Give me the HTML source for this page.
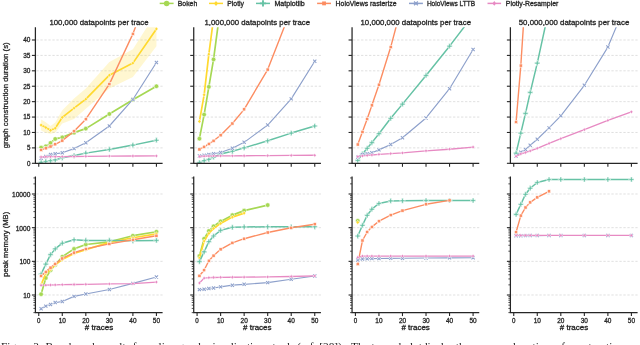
<!DOCTYPE html>
<html><head><meta charset="utf-8"><style>
html,body{margin:0;padding:0;background:#fff;width:640px;height:345px;overflow:hidden}
svg{will-change:transform}
svg text{font-family:"Liberation Sans", sans-serif;stroke:#262626;stroke-width:0.3px}
</style></head><body>
<svg width="640" height="345" viewBox="0 0 640 345" style="display:block">
<rect width="640" height="345" fill="#fff"/>
<clipPath id="ct0"><rect x="35.40" y="27.20" width="127.20" height="136.10"/></clipPath>
<clipPath id="cb0"><rect x="35.40" y="176.50" width="127.20" height="136.10"/></clipPath>
<clipPath id="ct1"><rect x="193.73" y="27.20" width="127.20" height="136.10"/></clipPath>
<clipPath id="cb1"><rect x="193.73" y="176.50" width="127.20" height="136.10"/></clipPath>
<clipPath id="ct2"><rect x="352.06" y="27.20" width="127.20" height="136.10"/></clipPath>
<clipPath id="cb2"><rect x="352.06" y="176.50" width="127.20" height="136.10"/></clipPath>
<clipPath id="ct3"><rect x="510.39" y="27.20" width="127.20" height="136.10"/></clipPath>
<clipPath id="cb3"><rect x="510.39" y="176.50" width="127.20" height="136.10"/></clipPath>
<line x1="36.40" y1="147.89" x2="162.60" y2="147.89" stroke="#d2d2d2" stroke-width="0.7" stroke-dasharray="2.3 1.7"/>
<line x1="36.40" y1="132.47" x2="162.60" y2="132.47" stroke="#d2d2d2" stroke-width="0.7" stroke-dasharray="2.3 1.7"/>
<line x1="36.40" y1="117.06" x2="162.60" y2="117.06" stroke="#d2d2d2" stroke-width="0.7" stroke-dasharray="2.3 1.7"/>
<line x1="36.40" y1="101.65" x2="162.60" y2="101.65" stroke="#d2d2d2" stroke-width="0.7" stroke-dasharray="2.3 1.7"/>
<line x1="36.40" y1="86.23" x2="162.60" y2="86.23" stroke="#d2d2d2" stroke-width="0.7" stroke-dasharray="2.3 1.7"/>
<line x1="36.40" y1="70.82" x2="162.60" y2="70.82" stroke="#d2d2d2" stroke-width="0.7" stroke-dasharray="2.3 1.7"/>
<line x1="36.40" y1="55.41" x2="162.60" y2="55.41" stroke="#d2d2d2" stroke-width="0.7" stroke-dasharray="2.3 1.7"/>
<line x1="36.40" y1="39.99" x2="162.60" y2="39.99" stroke="#d2d2d2" stroke-width="0.7" stroke-dasharray="2.3 1.7"/>
<line x1="36.40" y1="295.01" x2="162.60" y2="295.01" stroke="#d2d2d2" stroke-width="0.7" stroke-dasharray="2.3 1.7"/>
<line x1="36.40" y1="261.34" x2="162.60" y2="261.34" stroke="#d2d2d2" stroke-width="0.7" stroke-dasharray="2.3 1.7"/>
<line x1="36.40" y1="227.67" x2="162.60" y2="227.67" stroke="#d2d2d2" stroke-width="0.7" stroke-dasharray="2.3 1.7"/>
<line x1="36.40" y1="194.00" x2="162.60" y2="194.00" stroke="#d2d2d2" stroke-width="0.7" stroke-dasharray="2.3 1.7"/>
<g clip-path="url(#ct0)">
<polygon points="41.10,119.53 45.81,122.30 50.52,126.00 55.22,122.61 62.28,110.28 74.05,98.56 85.82,88.39 109.36,61.88 132.89,49.24 156.43,12.25 156.43,46.16 132.89,76.99 109.36,88.39 85.82,108.74 74.05,118.91 62.28,123.53 55.22,132.78 50.52,133.71 45.81,132.78 41.10,130.62" fill="#ffd92f" fill-opacity="0.22"/>
<polyline points="41.10,147.58 45.81,146.35 50.52,142.95 55.22,138.95 62.28,137.41 74.05,132.63 85.82,128.62 109.36,113.98 132.89,99.80 156.43,86.23" fill="none" stroke="#a6d854" stroke-width="1.7" stroke-linejoin="round"/>
<circle cx="41.10" cy="147.58" r="2.30" fill="#a6d854" stroke="#fff" stroke-width="0.55"/>
<circle cx="45.81" cy="146.35" r="2.30" fill="#a6d854" stroke="#fff" stroke-width="0.55"/>
<circle cx="50.52" cy="142.95" r="2.30" fill="#a6d854" stroke="#fff" stroke-width="0.55"/>
<circle cx="55.22" cy="138.95" r="2.30" fill="#a6d854" stroke="#fff" stroke-width="0.55"/>
<circle cx="62.28" cy="137.41" r="2.30" fill="#a6d854" stroke="#fff" stroke-width="0.55"/>
<circle cx="74.05" cy="132.63" r="2.30" fill="#a6d854" stroke="#fff" stroke-width="0.55"/>
<circle cx="85.82" cy="128.62" r="2.30" fill="#a6d854" stroke="#fff" stroke-width="0.55"/>
<circle cx="109.36" cy="113.98" r="2.30" fill="#a6d854" stroke="#fff" stroke-width="0.55"/>
<circle cx="132.89" cy="99.80" r="2.30" fill="#a6d854" stroke="#fff" stroke-width="0.55"/>
<circle cx="156.43" cy="86.23" r="2.30" fill="#a6d854" stroke="#fff" stroke-width="0.55"/>
<polyline points="41.10,125.07 45.81,127.54 50.52,130.32 55.22,128.16 62.28,117.37 74.05,108.12 85.82,99.18 109.36,75.14 132.89,63.11 156.43,28.90" fill="none" stroke="#ffd92f" stroke-width="1.7" stroke-linejoin="round"/>
<path d="M41.10 122.97L42.78 125.07L41.10 127.17L39.42 125.07Z" fill="#ffd92f" stroke="#fff" stroke-width="0.55"/>
<path d="M45.81 125.44L47.49 127.54L45.81 129.64L44.13 127.54Z" fill="#ffd92f" stroke="#fff" stroke-width="0.55"/>
<path d="M50.52 128.22L52.20 130.32L50.52 132.42L48.84 130.32Z" fill="#ffd92f" stroke="#fff" stroke-width="0.55"/>
<path d="M55.22 126.06L56.90 128.16L55.22 130.26L53.54 128.16Z" fill="#ffd92f" stroke="#fff" stroke-width="0.55"/>
<path d="M62.28 115.27L63.96 117.37L62.28 119.47L60.60 117.37Z" fill="#ffd92f" stroke="#fff" stroke-width="0.55"/>
<path d="M74.05 106.02L75.73 108.12L74.05 110.22L72.37 108.12Z" fill="#ffd92f" stroke="#fff" stroke-width="0.55"/>
<path d="M85.82 97.08L87.50 99.18L85.82 101.28L84.14 99.18Z" fill="#ffd92f" stroke="#fff" stroke-width="0.55"/>
<path d="M109.36 73.04L111.04 75.14L109.36 77.24L107.67 75.14Z" fill="#ffd92f" stroke="#fff" stroke-width="0.55"/>
<path d="M132.89 61.01L134.57 63.11L132.89 65.21L131.21 63.11Z" fill="#ffd92f" stroke="#fff" stroke-width="0.55"/>
<path d="M156.43 26.80L158.11 28.90L156.43 31.00L154.75 28.90Z" fill="#ffd92f" stroke="#fff" stroke-width="0.55"/>
<polyline points="41.10,162.28 45.81,161.45 50.52,160.68 55.22,159.91 62.28,157.81 74.05,155.59 85.82,153.13 109.36,149.43 132.89,145.11 156.43,140.18" fill="none" stroke="#66c2a5" stroke-width="1.5" stroke-linejoin="round"/>
<path d="M40.30 159.68H41.90V161.48H43.70V163.08H41.90V164.88H40.30V163.08H38.50V161.48H40.30Z" fill="#66c2a5" stroke="#fff" stroke-width="0.55"/>
<path d="M45.01 158.85H46.61V160.65H48.41V162.25H46.61V164.05H45.01V162.25H43.21V160.65H45.01Z" fill="#66c2a5" stroke="#fff" stroke-width="0.55"/>
<path d="M49.72 158.08H51.32V159.88H53.12V161.48H51.32V163.28H49.72V161.48H47.92V159.88H49.72Z" fill="#66c2a5" stroke="#fff" stroke-width="0.55"/>
<path d="M54.42 157.31H56.02V159.11H57.82V160.71H56.02V162.51H54.42V160.71H52.62V159.11H54.42Z" fill="#66c2a5" stroke="#fff" stroke-width="0.55"/>
<path d="M61.48 155.21H63.08V157.01H64.88V158.61H63.08V160.41H61.48V158.61H59.68V157.01H61.48Z" fill="#66c2a5" stroke="#fff" stroke-width="0.55"/>
<path d="M73.25 152.99H74.85V154.79H76.65V156.39H74.85V158.19H73.25V156.39H71.45V154.79H73.25Z" fill="#66c2a5" stroke="#fff" stroke-width="0.55"/>
<path d="M85.02 150.53H86.62V152.33H88.42V153.93H86.62V155.73H85.02V153.93H83.22V152.33H85.02Z" fill="#66c2a5" stroke="#fff" stroke-width="0.55"/>
<path d="M108.56 146.83H110.16V148.63H111.95V150.23H110.16V152.03H108.56V150.23H106.76V148.63H108.56Z" fill="#66c2a5" stroke="#fff" stroke-width="0.55"/>
<path d="M132.09 142.51H133.69V144.31H135.49V145.91H133.69V147.71H132.09V145.91H130.29V144.31H132.09Z" fill="#66c2a5" stroke="#fff" stroke-width="0.55"/>
<path d="M155.62 137.58H157.23V139.38H159.03V140.98H157.23V142.78H155.62V140.98H153.83V139.38H155.62Z" fill="#66c2a5" stroke="#fff" stroke-width="0.55"/>
<polyline points="41.10,149.89 45.81,148.29 50.52,146.50 55.22,144.28 62.28,140.61 74.05,131.24 85.82,119.22 109.36,84.08 132.89,33.83 156.43,-27.83" fill="none" stroke="#fc8d62" stroke-width="1.4" stroke-linejoin="round"/>
<rect x="39.50" y="148.29" width="3.20" height="3.20" fill="#fc8d62" stroke="#fff" stroke-width="0.55"/>
<rect x="44.21" y="146.69" width="3.20" height="3.20" fill="#fc8d62" stroke="#fff" stroke-width="0.55"/>
<rect x="48.92" y="144.90" width="3.20" height="3.20" fill="#fc8d62" stroke="#fff" stroke-width="0.55"/>
<rect x="53.62" y="142.68" width="3.20" height="3.20" fill="#fc8d62" stroke="#fff" stroke-width="0.55"/>
<rect x="60.68" y="139.01" width="3.20" height="3.20" fill="#fc8d62" stroke="#fff" stroke-width="0.55"/>
<rect x="72.45" y="129.64" width="3.20" height="3.20" fill="#fc8d62" stroke="#fff" stroke-width="0.55"/>
<rect x="84.22" y="117.62" width="3.20" height="3.20" fill="#fc8d62" stroke="#fff" stroke-width="0.55"/>
<rect x="107.76" y="82.48" width="3.20" height="3.20" fill="#fc8d62" stroke="#fff" stroke-width="0.55"/>
<rect x="131.29" y="32.23" width="3.20" height="3.20" fill="#fc8d62" stroke="#fff" stroke-width="0.55"/>
<rect x="154.83" y="-29.43" width="3.20" height="3.20" fill="#fc8d62" stroke="#fff" stroke-width="0.55"/>
<polyline points="41.10,158.21 45.81,156.52 50.52,154.51 55.22,153.74 62.28,152.82 74.05,148.60 85.82,142.71 109.36,126.00 132.89,99.49 156.43,62.50" fill="none" stroke="#8da0cb" stroke-width="1.15" stroke-linejoin="round"/>
<path d="M39.50 156.61L42.70 159.81M42.70 156.61L39.50 159.81" stroke="#fff" stroke-width="2.00" fill="none"/><path d="M39.50 156.61L42.70 159.81M42.70 156.61L39.50 159.81" stroke="#8da0cb" stroke-width="1.05" fill="none"/>
<path d="M44.21 154.92L47.41 158.12M47.41 154.92L44.21 158.12" stroke="#fff" stroke-width="2.00" fill="none"/><path d="M44.21 154.92L47.41 158.12M47.41 154.92L44.21 158.12" stroke="#8da0cb" stroke-width="1.05" fill="none"/>
<path d="M48.92 152.91L52.12 156.11M52.12 152.91L48.92 156.11" stroke="#fff" stroke-width="2.00" fill="none"/><path d="M48.92 152.91L52.12 156.11M52.12 152.91L48.92 156.11" stroke="#8da0cb" stroke-width="1.05" fill="none"/>
<path d="M53.62 152.14L56.82 155.34M56.82 152.14L53.62 155.34" stroke="#fff" stroke-width="2.00" fill="none"/><path d="M53.62 152.14L56.82 155.34M56.82 152.14L53.62 155.34" stroke="#8da0cb" stroke-width="1.05" fill="none"/>
<path d="M60.68 151.22L63.88 154.42M63.88 151.22L60.68 154.42" stroke="#fff" stroke-width="2.00" fill="none"/><path d="M60.68 151.22L63.88 154.42M63.88 151.22L60.68 154.42" stroke="#8da0cb" stroke-width="1.05" fill="none"/>
<path d="M72.45 147.00L75.65 150.20M75.65 147.00L72.45 150.20" stroke="#fff" stroke-width="2.00" fill="none"/><path d="M72.45 147.00L75.65 150.20M75.65 147.00L72.45 150.20" stroke="#8da0cb" stroke-width="1.05" fill="none"/>
<path d="M84.22 141.11L87.42 144.31M87.42 141.11L84.22 144.31" stroke="#fff" stroke-width="2.00" fill="none"/><path d="M84.22 141.11L87.42 144.31M87.42 141.11L84.22 144.31" stroke="#8da0cb" stroke-width="1.05" fill="none"/>
<path d="M107.76 124.40L110.95 127.60M110.95 124.40L107.76 127.60" stroke="#fff" stroke-width="2.00" fill="none"/><path d="M107.76 124.40L110.95 127.60M110.95 124.40L107.76 127.60" stroke="#8da0cb" stroke-width="1.05" fill="none"/>
<path d="M131.29 97.89L134.49 101.09M134.49 97.89L131.29 101.09" stroke="#fff" stroke-width="2.00" fill="none"/><path d="M131.29 97.89L134.49 101.09M134.49 97.89L131.29 101.09" stroke="#8da0cb" stroke-width="1.05" fill="none"/>
<path d="M154.83 60.90L158.03 64.10M158.03 60.90L154.83 64.10" stroke="#fff" stroke-width="2.00" fill="none"/><path d="M154.83 60.90L158.03 64.10M158.03 60.90L154.83 64.10" stroke="#8da0cb" stroke-width="1.05" fill="none"/>
<polyline points="41.10,157.01 45.81,156.76 50.52,156.70 55.22,156.67 62.28,156.64 74.05,156.52 85.82,156.36 109.36,156.06 132.89,155.99 156.43,155.90" fill="none" stroke="#e78ac3" stroke-width="1.35" stroke-linejoin="round"/>
<path d="M41.10 155.11L42.62 157.01L41.10 158.91L39.58 157.01Z" fill="#e78ac3" stroke="#fff" stroke-width="0.55"/>
<path d="M45.81 154.86L47.33 156.76L45.81 158.66L44.29 156.76Z" fill="#e78ac3" stroke="#fff" stroke-width="0.55"/>
<path d="M50.52 154.80L52.04 156.70L50.52 158.60L49.00 156.70Z" fill="#e78ac3" stroke="#fff" stroke-width="0.55"/>
<path d="M55.22 154.77L56.74 156.67L55.22 158.57L53.70 156.67Z" fill="#e78ac3" stroke="#fff" stroke-width="0.55"/>
<path d="M62.28 154.74L63.80 156.64L62.28 158.54L60.76 156.64Z" fill="#e78ac3" stroke="#fff" stroke-width="0.55"/>
<path d="M74.05 154.62L75.57 156.52L74.05 158.42L72.53 156.52Z" fill="#e78ac3" stroke="#fff" stroke-width="0.55"/>
<path d="M85.82 154.46L87.34 156.36L85.82 158.26L84.30 156.36Z" fill="#e78ac3" stroke="#fff" stroke-width="0.55"/>
<path d="M109.36 154.16L110.88 156.06L109.36 157.96L107.84 156.06Z" fill="#e78ac3" stroke="#fff" stroke-width="0.55"/>
<path d="M132.89 154.09L134.41 155.99L132.89 157.89L131.37 155.99Z" fill="#e78ac3" stroke="#fff" stroke-width="0.55"/>
<path d="M156.43 154.00L157.95 155.90L156.43 157.80L154.91 155.90Z" fill="#e78ac3" stroke="#fff" stroke-width="0.55"/>
</g>
<g clip-path="url(#cb0)">
<polyline points="41.10,294.20 45.81,278.00 50.52,270.19 55.22,264.93 62.28,256.68 74.05,248.91 85.82,244.48 109.36,241.79 132.89,235.71 156.43,231.72" fill="none" stroke="#a6d854" stroke-width="1.7" stroke-linejoin="round"/>
<circle cx="41.10" cy="294.20" r="2.30" fill="#a6d854" stroke="#fff" stroke-width="0.55"/>
<circle cx="45.81" cy="278.00" r="2.30" fill="#a6d854" stroke="#fff" stroke-width="0.55"/>
<circle cx="50.52" cy="270.19" r="2.30" fill="#a6d854" stroke="#fff" stroke-width="0.55"/>
<circle cx="55.22" cy="264.93" r="2.30" fill="#a6d854" stroke="#fff" stroke-width="0.55"/>
<circle cx="62.28" cy="256.68" r="2.30" fill="#a6d854" stroke="#fff" stroke-width="0.55"/>
<circle cx="74.05" cy="248.91" r="2.30" fill="#a6d854" stroke="#fff" stroke-width="0.55"/>
<circle cx="85.82" cy="244.48" r="2.30" fill="#a6d854" stroke="#fff" stroke-width="0.55"/>
<circle cx="109.36" cy="241.79" r="2.30" fill="#a6d854" stroke="#fff" stroke-width="0.55"/>
<circle cx="132.89" cy="235.71" r="2.30" fill="#a6d854" stroke="#fff" stroke-width="0.55"/>
<circle cx="156.43" cy="231.72" r="2.30" fill="#a6d854" stroke="#fff" stroke-width="0.55"/>
<polyline points="41.10,284.66 45.81,273.59 50.52,269.42 55.22,264.75 62.28,259.58 74.05,253.38 85.82,249.68 109.36,242.34 132.89,237.75 156.43,233.80" fill="none" stroke="#ffd92f" stroke-width="1.7" stroke-linejoin="round"/>
<path d="M41.10 282.56L42.78 284.66L41.10 286.76L39.42 284.66Z" fill="#ffd92f" stroke="#fff" stroke-width="0.55"/>
<path d="M45.81 271.49L47.49 273.59L45.81 275.69L44.13 273.59Z" fill="#ffd92f" stroke="#fff" stroke-width="0.55"/>
<path d="M50.52 267.32L52.20 269.42L50.52 271.52L48.84 269.42Z" fill="#ffd92f" stroke="#fff" stroke-width="0.55"/>
<path d="M55.22 262.65L56.90 264.75L55.22 266.85L53.54 264.75Z" fill="#ffd92f" stroke="#fff" stroke-width="0.55"/>
<path d="M62.28 257.48L63.96 259.58L62.28 261.68L60.60 259.58Z" fill="#ffd92f" stroke="#fff" stroke-width="0.55"/>
<path d="M74.05 251.28L75.73 253.38L74.05 255.48L72.37 253.38Z" fill="#ffd92f" stroke="#fff" stroke-width="0.55"/>
<path d="M85.82 247.58L87.50 249.68L85.82 251.78L84.14 249.68Z" fill="#ffd92f" stroke="#fff" stroke-width="0.55"/>
<path d="M109.36 240.24L111.04 242.34L109.36 244.44L107.67 242.34Z" fill="#ffd92f" stroke="#fff" stroke-width="0.55"/>
<path d="M132.89 235.65L134.57 237.75L132.89 239.85L131.21 237.75Z" fill="#ffd92f" stroke="#fff" stroke-width="0.55"/>
<path d="M156.43 231.70L158.11 233.80L156.43 235.90L154.75 233.80Z" fill="#ffd92f" stroke="#fff" stroke-width="0.55"/>
<polyline points="41.10,274.13 45.81,264.09 50.52,254.61 55.22,248.91 62.28,243.20 74.05,239.78 85.82,240.40 109.36,240.40 132.89,240.82 156.43,240.40" fill="none" stroke="#66c2a5" stroke-width="1.5" stroke-linejoin="round"/>
<path d="M40.30 271.53H41.90V273.33H43.70V274.93H41.90V276.73H40.30V274.93H38.50V273.33H40.30Z" fill="#66c2a5" stroke="#fff" stroke-width="0.55"/>
<path d="M45.01 261.49H46.61V263.29H48.41V264.89H46.61V266.69H45.01V264.89H43.21V263.29H45.01Z" fill="#66c2a5" stroke="#fff" stroke-width="0.55"/>
<path d="M49.72 252.01H51.32V253.81H53.12V255.41H51.32V257.21H49.72V255.41H47.92V253.81H49.72Z" fill="#66c2a5" stroke="#fff" stroke-width="0.55"/>
<path d="M54.42 246.31H56.02V248.11H57.82V249.71H56.02V251.51H54.42V249.71H52.62V248.11H54.42Z" fill="#66c2a5" stroke="#fff" stroke-width="0.55"/>
<path d="M61.48 240.60H63.08V242.40H64.88V244.00H63.08V245.80H61.48V244.00H59.68V242.40H61.48Z" fill="#66c2a5" stroke="#fff" stroke-width="0.55"/>
<path d="M73.25 237.18H74.85V238.98H76.65V240.58H74.85V242.38H73.25V240.58H71.45V238.98H73.25Z" fill="#66c2a5" stroke="#fff" stroke-width="0.55"/>
<path d="M85.02 237.80H86.62V239.60H88.42V241.20H86.62V243.00H85.02V241.20H83.22V239.60H85.02Z" fill="#66c2a5" stroke="#fff" stroke-width="0.55"/>
<path d="M108.56 237.80H110.16V239.60H111.95V241.20H110.16V243.00H108.56V241.20H106.76V239.60H108.56Z" fill="#66c2a5" stroke="#fff" stroke-width="0.55"/>
<path d="M132.09 238.22H133.69V240.02H135.49V241.62H133.69V243.42H132.09V241.62H130.29V240.02H132.09Z" fill="#66c2a5" stroke="#fff" stroke-width="0.55"/>
<path d="M155.62 237.80H157.23V239.60H159.03V241.20H157.23V243.00H155.62V241.20H153.83V239.60H155.62Z" fill="#66c2a5" stroke="#fff" stroke-width="0.55"/>
<polyline points="41.10,275.91 45.81,271.87 50.52,267.64 55.22,263.87 62.28,258.47 74.05,252.64 85.82,248.91 109.36,243.89 132.89,239.78 156.43,235.71" fill="none" stroke="#fc8d62" stroke-width="1.4" stroke-linejoin="round"/>
<rect x="39.50" y="274.31" width="3.20" height="3.20" fill="#fc8d62" stroke="#fff" stroke-width="0.55"/>
<rect x="44.21" y="270.27" width="3.20" height="3.20" fill="#fc8d62" stroke="#fff" stroke-width="0.55"/>
<rect x="48.92" y="266.04" width="3.20" height="3.20" fill="#fc8d62" stroke="#fff" stroke-width="0.55"/>
<rect x="53.62" y="262.27" width="3.20" height="3.20" fill="#fc8d62" stroke="#fff" stroke-width="0.55"/>
<rect x="60.68" y="256.87" width="3.20" height="3.20" fill="#fc8d62" stroke="#fff" stroke-width="0.55"/>
<rect x="72.45" y="251.04" width="3.20" height="3.20" fill="#fc8d62" stroke="#fff" stroke-width="0.55"/>
<rect x="84.22" y="247.31" width="3.20" height="3.20" fill="#fc8d62" stroke="#fff" stroke-width="0.55"/>
<rect x="107.76" y="242.29" width="3.20" height="3.20" fill="#fc8d62" stroke="#fff" stroke-width="0.55"/>
<rect x="131.29" y="238.18" width="3.20" height="3.20" fill="#fc8d62" stroke="#fff" stroke-width="0.55"/>
<rect x="154.83" y="234.11" width="3.20" height="3.20" fill="#fc8d62" stroke="#fff" stroke-width="0.55"/>
<polyline points="41.10,308.69 45.81,306.13 50.52,304.56 55.22,302.59 62.28,301.52 74.05,296.37 85.82,293.94 109.36,289.53 132.89,283.39 156.43,277.00" fill="none" stroke="#8da0cb" stroke-width="1.15" stroke-linejoin="round"/>
<path d="M39.50 307.09L42.70 310.29M42.70 307.09L39.50 310.29" stroke="#fff" stroke-width="2.00" fill="none"/><path d="M39.50 307.09L42.70 310.29M42.70 307.09L39.50 310.29" stroke="#8da0cb" stroke-width="1.05" fill="none"/>
<path d="M44.21 304.53L47.41 307.73M47.41 304.53L44.21 307.73" stroke="#fff" stroke-width="2.00" fill="none"/><path d="M44.21 304.53L47.41 307.73M47.41 304.53L44.21 307.73" stroke="#8da0cb" stroke-width="1.05" fill="none"/>
<path d="M48.92 302.96L52.12 306.16M52.12 302.96L48.92 306.16" stroke="#fff" stroke-width="2.00" fill="none"/><path d="M48.92 302.96L52.12 306.16M52.12 302.96L48.92 306.16" stroke="#8da0cb" stroke-width="1.05" fill="none"/>
<path d="M53.62 300.99L56.82 304.19M56.82 300.99L53.62 304.19" stroke="#fff" stroke-width="2.00" fill="none"/><path d="M53.62 300.99L56.82 304.19M56.82 300.99L53.62 304.19" stroke="#8da0cb" stroke-width="1.05" fill="none"/>
<path d="M60.68 299.92L63.88 303.12M63.88 299.92L60.68 303.12" stroke="#fff" stroke-width="2.00" fill="none"/><path d="M60.68 299.92L63.88 303.12M63.88 299.92L60.68 303.12" stroke="#8da0cb" stroke-width="1.05" fill="none"/>
<path d="M72.45 294.77L75.65 297.97M75.65 294.77L72.45 297.97" stroke="#fff" stroke-width="2.00" fill="none"/><path d="M72.45 294.77L75.65 297.97M75.65 294.77L72.45 297.97" stroke="#8da0cb" stroke-width="1.05" fill="none"/>
<path d="M84.22 292.34L87.42 295.54M87.42 292.34L84.22 295.54" stroke="#fff" stroke-width="2.00" fill="none"/><path d="M84.22 292.34L87.42 295.54M87.42 292.34L84.22 295.54" stroke="#8da0cb" stroke-width="1.05" fill="none"/>
<path d="M107.76 287.93L110.95 291.13M110.95 287.93L107.76 291.13" stroke="#fff" stroke-width="2.00" fill="none"/><path d="M107.76 287.93L110.95 291.13M110.95 287.93L107.76 291.13" stroke="#8da0cb" stroke-width="1.05" fill="none"/>
<path d="M131.29 281.79L134.49 284.99M134.49 281.79L131.29 284.99" stroke="#fff" stroke-width="2.00" fill="none"/><path d="M131.29 281.79L134.49 284.99M134.49 281.79L131.29 284.99" stroke="#8da0cb" stroke-width="1.05" fill="none"/>
<path d="M154.83 275.40L158.03 278.60M158.03 275.40L154.83 278.60" stroke="#fff" stroke-width="2.00" fill="none"/><path d="M154.83 275.40L158.03 278.60M158.03 275.40L154.83 278.60" stroke="#8da0cb" stroke-width="1.05" fill="none"/>
<polyline points="41.10,285.31 45.81,285.16 50.52,285.02 55.22,284.88 62.28,284.66 74.05,284.52 85.82,284.32 109.36,283.91 132.89,283.65 156.43,282.09" fill="none" stroke="#e78ac3" stroke-width="1.35" stroke-linejoin="round"/>
<path d="M41.10 283.41L42.62 285.31L41.10 287.21L39.58 285.31Z" fill="#e78ac3" stroke="#fff" stroke-width="0.55"/>
<path d="M45.81 283.26L47.33 285.16L45.81 287.06L44.29 285.16Z" fill="#e78ac3" stroke="#fff" stroke-width="0.55"/>
<path d="M50.52 283.12L52.04 285.02L50.52 286.92L49.00 285.02Z" fill="#e78ac3" stroke="#fff" stroke-width="0.55"/>
<path d="M55.22 282.98L56.74 284.88L55.22 286.78L53.70 284.88Z" fill="#e78ac3" stroke="#fff" stroke-width="0.55"/>
<path d="M62.28 282.76L63.80 284.66L62.28 286.56L60.76 284.66Z" fill="#e78ac3" stroke="#fff" stroke-width="0.55"/>
<path d="M74.05 282.62L75.57 284.52L74.05 286.42L72.53 284.52Z" fill="#e78ac3" stroke="#fff" stroke-width="0.55"/>
<path d="M85.82 282.42L87.34 284.32L85.82 286.22L84.30 284.32Z" fill="#e78ac3" stroke="#fff" stroke-width="0.55"/>
<path d="M109.36 282.01L110.88 283.91L109.36 285.81L107.84 283.91Z" fill="#e78ac3" stroke="#fff" stroke-width="0.55"/>
<path d="M132.89 281.75L134.41 283.65L132.89 285.55L131.37 283.65Z" fill="#e78ac3" stroke="#fff" stroke-width="0.55"/>
<path d="M156.43 280.19L157.95 282.09L156.43 283.99L154.91 282.09Z" fill="#e78ac3" stroke="#fff" stroke-width="0.55"/>
</g>
<path d="M35.40 27.20V163.30H162.60" fill="none" stroke="#262626" stroke-width="1.25" stroke-linecap="butt"/>
<path d="M35.40 176.50V312.60H162.60" fill="none" stroke="#262626" stroke-width="1.25" stroke-linecap="butt"/>
<line x1="38.75" y1="163.30" x2="38.75" y2="166.80" stroke="#262626" stroke-width="1.1"/>
<line x1="38.75" y1="312.60" x2="38.75" y2="316.10" stroke="#262626" stroke-width="1.1"/>
<text x="38.75" y="322.6" font-size="6.8" text-anchor="middle" fill="#262626" textLength="3.45" lengthAdjust="spacingAndGlyphs">0</text>
<line x1="62.28" y1="163.30" x2="62.28" y2="166.80" stroke="#262626" stroke-width="1.1"/>
<line x1="62.28" y1="312.60" x2="62.28" y2="316.10" stroke="#262626" stroke-width="1.1"/>
<text x="62.28" y="322.6" font-size="6.8" text-anchor="middle" fill="#262626" textLength="7.20" lengthAdjust="spacingAndGlyphs">10</text>
<line x1="85.82" y1="163.30" x2="85.82" y2="166.80" stroke="#262626" stroke-width="1.1"/>
<line x1="85.82" y1="312.60" x2="85.82" y2="316.10" stroke="#262626" stroke-width="1.1"/>
<text x="85.82" y="322.6" font-size="6.8" text-anchor="middle" fill="#262626" textLength="7.20" lengthAdjust="spacingAndGlyphs">20</text>
<line x1="109.36" y1="163.30" x2="109.36" y2="166.80" stroke="#262626" stroke-width="1.1"/>
<line x1="109.36" y1="312.60" x2="109.36" y2="316.10" stroke="#262626" stroke-width="1.1"/>
<text x="109.36" y="322.6" font-size="6.8" text-anchor="middle" fill="#262626" textLength="7.20" lengthAdjust="spacingAndGlyphs">30</text>
<line x1="132.89" y1="163.30" x2="132.89" y2="166.80" stroke="#262626" stroke-width="1.1"/>
<line x1="132.89" y1="312.60" x2="132.89" y2="316.10" stroke="#262626" stroke-width="1.1"/>
<text x="132.89" y="322.6" font-size="6.8" text-anchor="middle" fill="#262626" textLength="7.20" lengthAdjust="spacingAndGlyphs">40</text>
<line x1="156.43" y1="163.30" x2="156.43" y2="166.80" stroke="#262626" stroke-width="1.1"/>
<line x1="156.43" y1="312.60" x2="156.43" y2="316.10" stroke="#262626" stroke-width="1.1"/>
<text x="156.43" y="322.6" font-size="6.8" text-anchor="middle" fill="#262626" textLength="7.20" lengthAdjust="spacingAndGlyphs">50</text>
<line x1="31.90" y1="163.30" x2="35.40" y2="163.30" stroke="#262626" stroke-width="1.1"/>
<text x="30.40" y="165.70" font-size="6.8" text-anchor="end" fill="#262626" textLength="3.45" lengthAdjust="spacingAndGlyphs">0</text>
<line x1="31.90" y1="147.89" x2="35.40" y2="147.89" stroke="#262626" stroke-width="1.1"/>
<text x="30.40" y="150.29" font-size="6.8" text-anchor="end" fill="#262626" textLength="3.45" lengthAdjust="spacingAndGlyphs">5</text>
<line x1="31.90" y1="132.47" x2="35.40" y2="132.47" stroke="#262626" stroke-width="1.1"/>
<text x="30.40" y="134.87" font-size="6.8" text-anchor="end" fill="#262626" textLength="7.20" lengthAdjust="spacingAndGlyphs">10</text>
<line x1="31.90" y1="117.06" x2="35.40" y2="117.06" stroke="#262626" stroke-width="1.1"/>
<text x="30.40" y="119.46" font-size="6.8" text-anchor="end" fill="#262626" textLength="7.20" lengthAdjust="spacingAndGlyphs">15</text>
<line x1="31.90" y1="101.65" x2="35.40" y2="101.65" stroke="#262626" stroke-width="1.1"/>
<text x="30.40" y="104.05" font-size="6.8" text-anchor="end" fill="#262626" textLength="7.20" lengthAdjust="spacingAndGlyphs">20</text>
<line x1="31.90" y1="86.23" x2="35.40" y2="86.23" stroke="#262626" stroke-width="1.1"/>
<text x="30.40" y="88.63" font-size="6.8" text-anchor="end" fill="#262626" textLength="7.20" lengthAdjust="spacingAndGlyphs">25</text>
<line x1="31.90" y1="70.82" x2="35.40" y2="70.82" stroke="#262626" stroke-width="1.1"/>
<text x="30.40" y="73.22" font-size="6.8" text-anchor="end" fill="#262626" textLength="7.20" lengthAdjust="spacingAndGlyphs">30</text>
<line x1="31.90" y1="55.41" x2="35.40" y2="55.41" stroke="#262626" stroke-width="1.1"/>
<text x="30.40" y="57.81" font-size="6.8" text-anchor="end" fill="#262626" textLength="7.20" lengthAdjust="spacingAndGlyphs">35</text>
<line x1="31.90" y1="39.99" x2="35.40" y2="39.99" stroke="#262626" stroke-width="1.1"/>
<text x="30.40" y="42.39" font-size="6.8" text-anchor="end" fill="#262626" textLength="7.20" lengthAdjust="spacingAndGlyphs">40</text>
<line x1="33.40" y1="312.62" x2="35.40" y2="312.62" stroke="#262626" stroke-width="0.8"/>
<line x1="33.40" y1="308.41" x2="35.40" y2="308.41" stroke="#262626" stroke-width="0.8"/>
<line x1="33.40" y1="305.15" x2="35.40" y2="305.15" stroke="#262626" stroke-width="0.8"/>
<line x1="33.40" y1="302.48" x2="35.40" y2="302.48" stroke="#262626" stroke-width="0.8"/>
<line x1="33.40" y1="300.23" x2="35.40" y2="300.23" stroke="#262626" stroke-width="0.8"/>
<line x1="33.40" y1="298.27" x2="35.40" y2="298.27" stroke="#262626" stroke-width="0.8"/>
<line x1="33.40" y1="296.55" x2="35.40" y2="296.55" stroke="#262626" stroke-width="0.8"/>
<line x1="31.90" y1="295.01" x2="35.40" y2="295.01" stroke="#262626" stroke-width="1.1"/>
<text x="30.40" y="298.01" font-size="6.8" text-anchor="end" fill="#262626" textLength="7.20" lengthAdjust="spacingAndGlyphs">10</text>
<line x1="33.40" y1="284.87" x2="35.40" y2="284.87" stroke="#262626" stroke-width="0.8"/>
<line x1="33.40" y1="278.95" x2="35.40" y2="278.95" stroke="#262626" stroke-width="0.8"/>
<line x1="33.40" y1="274.74" x2="35.40" y2="274.74" stroke="#262626" stroke-width="0.8"/>
<line x1="33.40" y1="271.48" x2="35.40" y2="271.48" stroke="#262626" stroke-width="0.8"/>
<line x1="33.40" y1="268.81" x2="35.40" y2="268.81" stroke="#262626" stroke-width="0.8"/>
<line x1="33.40" y1="266.56" x2="35.40" y2="266.56" stroke="#262626" stroke-width="0.8"/>
<line x1="33.40" y1="264.60" x2="35.40" y2="264.60" stroke="#262626" stroke-width="0.8"/>
<line x1="33.40" y1="262.88" x2="35.40" y2="262.88" stroke="#262626" stroke-width="0.8"/>
<line x1="31.90" y1="261.34" x2="35.40" y2="261.34" stroke="#262626" stroke-width="1.1"/>
<text x="30.40" y="264.34" font-size="6.8" text-anchor="end" fill="#262626" textLength="10.95" lengthAdjust="spacingAndGlyphs">100</text>
<line x1="33.40" y1="251.20" x2="35.40" y2="251.20" stroke="#262626" stroke-width="0.8"/>
<line x1="33.40" y1="245.28" x2="35.40" y2="245.28" stroke="#262626" stroke-width="0.8"/>
<line x1="33.40" y1="241.07" x2="35.40" y2="241.07" stroke="#262626" stroke-width="0.8"/>
<line x1="33.40" y1="237.81" x2="35.40" y2="237.81" stroke="#262626" stroke-width="0.8"/>
<line x1="33.40" y1="235.14" x2="35.40" y2="235.14" stroke="#262626" stroke-width="0.8"/>
<line x1="33.40" y1="232.89" x2="35.40" y2="232.89" stroke="#262626" stroke-width="0.8"/>
<line x1="33.40" y1="230.93" x2="35.40" y2="230.93" stroke="#262626" stroke-width="0.8"/>
<line x1="33.40" y1="229.21" x2="35.40" y2="229.21" stroke="#262626" stroke-width="0.8"/>
<line x1="31.90" y1="227.67" x2="35.40" y2="227.67" stroke="#262626" stroke-width="1.1"/>
<text x="30.40" y="230.67" font-size="6.8" text-anchor="end" fill="#262626" textLength="14.70" lengthAdjust="spacingAndGlyphs">1000</text>
<line x1="33.40" y1="217.53" x2="35.40" y2="217.53" stroke="#262626" stroke-width="0.8"/>
<line x1="33.40" y1="211.61" x2="35.40" y2="211.61" stroke="#262626" stroke-width="0.8"/>
<line x1="33.40" y1="207.40" x2="35.40" y2="207.40" stroke="#262626" stroke-width="0.8"/>
<line x1="33.40" y1="204.14" x2="35.40" y2="204.14" stroke="#262626" stroke-width="0.8"/>
<line x1="33.40" y1="201.47" x2="35.40" y2="201.47" stroke="#262626" stroke-width="0.8"/>
<line x1="33.40" y1="199.22" x2="35.40" y2="199.22" stroke="#262626" stroke-width="0.8"/>
<line x1="33.40" y1="197.26" x2="35.40" y2="197.26" stroke="#262626" stroke-width="0.8"/>
<line x1="33.40" y1="195.54" x2="35.40" y2="195.54" stroke="#262626" stroke-width="0.8"/>
<line x1="31.90" y1="194.00" x2="35.40" y2="194.00" stroke="#262626" stroke-width="1.1"/>
<text x="30.40" y="197.00" font-size="6.8" text-anchor="end" fill="#262626" textLength="18.45" lengthAdjust="spacingAndGlyphs">10000</text>
<line x1="33.40" y1="183.86" x2="35.40" y2="183.86" stroke="#262626" stroke-width="0.8"/>
<line x1="33.40" y1="177.94" x2="35.40" y2="177.94" stroke="#262626" stroke-width="0.8"/>
<text x="99.00" y="329.8" font-size="7.1" text-anchor="middle" fill="#262626" textLength="28.4" lengthAdjust="spacingAndGlyphs"># traces</text>
<line x1="194.73" y1="147.89" x2="320.93" y2="147.89" stroke="#d2d2d2" stroke-width="0.7" stroke-dasharray="2.3 1.7"/>
<line x1="194.73" y1="132.47" x2="320.93" y2="132.47" stroke="#d2d2d2" stroke-width="0.7" stroke-dasharray="2.3 1.7"/>
<line x1="194.73" y1="117.06" x2="320.93" y2="117.06" stroke="#d2d2d2" stroke-width="0.7" stroke-dasharray="2.3 1.7"/>
<line x1="194.73" y1="101.65" x2="320.93" y2="101.65" stroke="#d2d2d2" stroke-width="0.7" stroke-dasharray="2.3 1.7"/>
<line x1="194.73" y1="86.23" x2="320.93" y2="86.23" stroke="#d2d2d2" stroke-width="0.7" stroke-dasharray="2.3 1.7"/>
<line x1="194.73" y1="70.82" x2="320.93" y2="70.82" stroke="#d2d2d2" stroke-width="0.7" stroke-dasharray="2.3 1.7"/>
<line x1="194.73" y1="55.41" x2="320.93" y2="55.41" stroke="#d2d2d2" stroke-width="0.7" stroke-dasharray="2.3 1.7"/>
<line x1="194.73" y1="39.99" x2="320.93" y2="39.99" stroke="#d2d2d2" stroke-width="0.7" stroke-dasharray="2.3 1.7"/>
<line x1="194.73" y1="295.01" x2="320.93" y2="295.01" stroke="#d2d2d2" stroke-width="0.7" stroke-dasharray="2.3 1.7"/>
<line x1="194.73" y1="261.34" x2="320.93" y2="261.34" stroke="#d2d2d2" stroke-width="0.7" stroke-dasharray="2.3 1.7"/>
<line x1="194.73" y1="227.67" x2="320.93" y2="227.67" stroke="#d2d2d2" stroke-width="0.7" stroke-dasharray="2.3 1.7"/>
<line x1="194.73" y1="194.00" x2="320.93" y2="194.00" stroke="#d2d2d2" stroke-width="0.7" stroke-dasharray="2.3 1.7"/>
<g clip-path="url(#ct1)">
<polyline points="199.43,138.64 204.14,114.59 208.85,86.85 213.55,59.41 220.62,6.08 232.38,-83.31 244.15,-175.79 267.69,-360.75 291.22,-545.71 314.75,-730.68" fill="none" stroke="#a6d854" stroke-width="1.7" stroke-linejoin="round"/>
<circle cx="199.43" cy="138.64" r="2.30" fill="#a6d854" stroke="#fff" stroke-width="0.55"/>
<circle cx="204.14" cy="114.59" r="2.30" fill="#a6d854" stroke="#fff" stroke-width="0.55"/>
<circle cx="208.85" cy="86.85" r="2.30" fill="#a6d854" stroke="#fff" stroke-width="0.55"/>
<circle cx="213.55" cy="59.41" r="2.30" fill="#a6d854" stroke="#fff" stroke-width="0.55"/>
<circle cx="220.62" cy="6.08" r="2.30" fill="#a6d854" stroke="#fff" stroke-width="0.55"/>
<circle cx="232.38" cy="-83.31" r="2.30" fill="#a6d854" stroke="#fff" stroke-width="0.55"/>
<circle cx="244.15" cy="-175.79" r="2.30" fill="#a6d854" stroke="#fff" stroke-width="0.55"/>
<circle cx="267.69" cy="-360.75" r="2.30" fill="#a6d854" stroke="#fff" stroke-width="0.55"/>
<circle cx="291.22" cy="-545.71" r="2.30" fill="#a6d854" stroke="#fff" stroke-width="0.55"/>
<circle cx="314.75" cy="-730.68" r="2.30" fill="#a6d854" stroke="#fff" stroke-width="0.55"/>
<polyline points="199.43,121.38 204.14,94.86 208.85,54.17 213.55,18.41 220.62,-52.49 232.38,-144.97 244.15,-237.45 267.69,-453.23 291.22,-638.19 314.75,-853.98" fill="none" stroke="#ffd92f" stroke-width="1.7" stroke-linejoin="round"/>
<path d="M199.43 119.28L201.11 121.38L199.43 123.48L197.75 121.38Z" fill="#ffd92f" stroke="#fff" stroke-width="0.55"/>
<path d="M204.14 92.76L205.82 94.86L204.14 96.96L202.46 94.86Z" fill="#ffd92f" stroke="#fff" stroke-width="0.55"/>
<path d="M208.85 52.07L210.53 54.17L208.85 56.27L207.17 54.17Z" fill="#ffd92f" stroke="#fff" stroke-width="0.55"/>
<path d="M213.55 16.31L215.23 18.41L213.55 20.51L211.87 18.41Z" fill="#ffd92f" stroke="#fff" stroke-width="0.55"/>
<path d="M220.62 -54.59L222.30 -52.49L220.62 -50.39L218.94 -52.49Z" fill="#ffd92f" stroke="#fff" stroke-width="0.55"/>
<path d="M232.38 -147.07L234.06 -144.97L232.38 -142.87L230.70 -144.97Z" fill="#ffd92f" stroke="#fff" stroke-width="0.55"/>
<path d="M244.15 -239.55L245.83 -237.45L244.15 -235.35L242.47 -237.45Z" fill="#ffd92f" stroke="#fff" stroke-width="0.55"/>
<path d="M267.69 -455.33L269.37 -453.23L267.69 -451.13L266.00 -453.23Z" fill="#ffd92f" stroke="#fff" stroke-width="0.55"/>
<path d="M291.22 -640.29L292.90 -638.19L291.22 -636.09L289.54 -638.19Z" fill="#ffd92f" stroke="#fff" stroke-width="0.55"/>
<path d="M314.75 -856.08L316.44 -853.98L314.75 -851.88L313.07 -853.98Z" fill="#ffd92f" stroke="#fff" stroke-width="0.55"/>
<polyline points="199.43,162.53 204.14,160.68 208.85,159.29 213.55,157.13 220.62,153.90 232.38,151.28 244.15,147.89 267.69,140.80 291.22,133.09 314.75,126.00" fill="none" stroke="#66c2a5" stroke-width="1.5" stroke-linejoin="round"/>
<path d="M198.63 159.93H200.23V161.73H202.03V163.33H200.23V165.13H198.63V163.33H196.83V161.73H198.63Z" fill="#66c2a5" stroke="#fff" stroke-width="0.55"/>
<path d="M203.34 158.08H204.94V159.88H206.74V161.48H204.94V163.28H203.34V161.48H201.54V159.88H203.34Z" fill="#66c2a5" stroke="#fff" stroke-width="0.55"/>
<path d="M208.05 156.69H209.65V158.49H211.45V160.09H209.65V161.89H208.05V160.09H206.25V158.49H208.05Z" fill="#66c2a5" stroke="#fff" stroke-width="0.55"/>
<path d="M212.75 154.53H214.35V156.33H216.15V157.93H214.35V159.73H212.75V157.93H210.95V156.33H212.75Z" fill="#66c2a5" stroke="#fff" stroke-width="0.55"/>
<path d="M219.81 151.30H221.42V153.10H223.22V154.70H221.42V156.50H219.81V154.70H218.02V153.10H219.81Z" fill="#66c2a5" stroke="#fff" stroke-width="0.55"/>
<path d="M231.58 148.68H233.18V150.48H234.98V152.08H233.18V153.88H231.58V152.08H229.78V150.48H231.58Z" fill="#66c2a5" stroke="#fff" stroke-width="0.55"/>
<path d="M243.35 145.29H244.95V147.09H246.75V148.69H244.95V150.49H243.35V148.69H241.55V147.09H243.35Z" fill="#66c2a5" stroke="#fff" stroke-width="0.55"/>
<path d="M266.88 138.20H268.49V140.00H270.29V141.60H268.49V143.40H266.88V141.60H265.08V140.00H266.88Z" fill="#66c2a5" stroke="#fff" stroke-width="0.55"/>
<path d="M290.42 130.49H292.02V132.29H293.82V133.89H292.02V135.69H290.42V133.89H288.62V132.29H290.42Z" fill="#66c2a5" stroke="#fff" stroke-width="0.55"/>
<path d="M313.95 123.40H315.56V125.20H317.36V126.80H315.56V128.60H313.95V126.80H312.15V125.20H313.95Z" fill="#66c2a5" stroke="#fff" stroke-width="0.55"/>
<polyline points="199.43,149.43 204.14,146.81 208.85,143.88 213.55,140.80 220.62,135.25 232.38,123.53 244.15,109.35 267.69,69.59 291.22,9.17 314.75,-52.49" fill="none" stroke="#fc8d62" stroke-width="1.4" stroke-linejoin="round"/>
<rect x="197.83" y="147.83" width="3.20" height="3.20" fill="#fc8d62" stroke="#fff" stroke-width="0.55"/>
<rect x="202.54" y="145.21" width="3.20" height="3.20" fill="#fc8d62" stroke="#fff" stroke-width="0.55"/>
<rect x="207.25" y="142.28" width="3.20" height="3.20" fill="#fc8d62" stroke="#fff" stroke-width="0.55"/>
<rect x="211.95" y="139.20" width="3.20" height="3.20" fill="#fc8d62" stroke="#fff" stroke-width="0.55"/>
<rect x="219.02" y="133.65" width="3.20" height="3.20" fill="#fc8d62" stroke="#fff" stroke-width="0.55"/>
<rect x="230.78" y="121.93" width="3.20" height="3.20" fill="#fc8d62" stroke="#fff" stroke-width="0.55"/>
<rect x="242.55" y="107.75" width="3.20" height="3.20" fill="#fc8d62" stroke="#fff" stroke-width="0.55"/>
<rect x="266.08" y="67.99" width="3.20" height="3.20" fill="#fc8d62" stroke="#fff" stroke-width="0.55"/>
<rect x="289.62" y="7.57" width="3.20" height="3.20" fill="#fc8d62" stroke="#fff" stroke-width="0.55"/>
<rect x="313.15" y="-54.09" width="3.20" height="3.20" fill="#fc8d62" stroke="#fff" stroke-width="0.55"/>
<polyline points="199.43,155.99 204.14,155.29 208.85,154.36 213.55,153.74 220.62,152.51 232.38,148.19 244.15,142.34 267.69,125.07 291.22,98.87 314.75,61.26" fill="none" stroke="#8da0cb" stroke-width="1.15" stroke-linejoin="round"/>
<path d="M197.83 154.39L201.03 157.59M201.03 154.39L197.83 157.59" stroke="#fff" stroke-width="2.00" fill="none"/><path d="M197.83 154.39L201.03 157.59M201.03 154.39L197.83 157.59" stroke="#8da0cb" stroke-width="1.05" fill="none"/>
<path d="M202.54 153.69L205.74 156.89M205.74 153.69L202.54 156.89" stroke="#fff" stroke-width="2.00" fill="none"/><path d="M202.54 153.69L205.74 156.89M205.74 153.69L202.54 156.89" stroke="#8da0cb" stroke-width="1.05" fill="none"/>
<path d="M207.25 152.76L210.45 155.96M210.45 152.76L207.25 155.96" stroke="#fff" stroke-width="2.00" fill="none"/><path d="M207.25 152.76L210.45 155.96M210.45 152.76L207.25 155.96" stroke="#8da0cb" stroke-width="1.05" fill="none"/>
<path d="M211.95 152.14L215.15 155.34M215.15 152.14L211.95 155.34" stroke="#fff" stroke-width="2.00" fill="none"/><path d="M211.95 152.14L215.15 155.34M215.15 152.14L211.95 155.34" stroke="#8da0cb" stroke-width="1.05" fill="none"/>
<path d="M219.02 150.91L222.22 154.11M222.22 150.91L219.02 154.11" stroke="#fff" stroke-width="2.00" fill="none"/><path d="M219.02 150.91L222.22 154.11M222.22 150.91L219.02 154.11" stroke="#8da0cb" stroke-width="1.05" fill="none"/>
<path d="M230.78 146.59L233.98 149.79M233.98 146.59L230.78 149.79" stroke="#fff" stroke-width="2.00" fill="none"/><path d="M230.78 146.59L233.98 149.79M233.98 146.59L230.78 149.79" stroke="#8da0cb" stroke-width="1.05" fill="none"/>
<path d="M242.55 140.74L245.75 143.94M245.75 140.74L242.55 143.94" stroke="#fff" stroke-width="2.00" fill="none"/><path d="M242.55 140.74L245.75 143.94M245.75 140.74L242.55 143.94" stroke="#8da0cb" stroke-width="1.05" fill="none"/>
<path d="M266.08 123.47L269.29 126.67M269.29 123.47L266.08 126.67" stroke="#fff" stroke-width="2.00" fill="none"/><path d="M266.08 123.47L269.29 126.67M269.29 123.47L266.08 126.67" stroke="#8da0cb" stroke-width="1.05" fill="none"/>
<path d="M289.62 97.27L292.82 100.47M292.82 97.27L289.62 100.47" stroke="#fff" stroke-width="2.00" fill="none"/><path d="M289.62 97.27L292.82 100.47M292.82 97.27L289.62 100.47" stroke="#8da0cb" stroke-width="1.05" fill="none"/>
<path d="M313.15 59.66L316.36 62.86M316.36 59.66L313.15 62.86" stroke="#fff" stroke-width="2.00" fill="none"/><path d="M313.15 59.66L316.36 62.86M316.36 59.66L313.15 62.86" stroke="#8da0cb" stroke-width="1.05" fill="none"/>
<polyline points="199.43,156.52 204.14,156.21 208.85,156.06 213.55,155.96 220.62,155.90 232.38,155.84 244.15,155.75 267.69,155.59 291.22,155.44 314.75,155.29" fill="none" stroke="#e78ac3" stroke-width="1.35" stroke-linejoin="round"/>
<path d="M199.43 154.62L200.95 156.52L199.43 158.42L197.91 156.52Z" fill="#e78ac3" stroke="#fff" stroke-width="0.55"/>
<path d="M204.14 154.31L205.66 156.21L204.14 158.11L202.62 156.21Z" fill="#e78ac3" stroke="#fff" stroke-width="0.55"/>
<path d="M208.85 154.16L210.37 156.06L208.85 157.96L207.33 156.06Z" fill="#e78ac3" stroke="#fff" stroke-width="0.55"/>
<path d="M213.55 154.06L215.07 155.96L213.55 157.86L212.03 155.96Z" fill="#e78ac3" stroke="#fff" stroke-width="0.55"/>
<path d="M220.62 154.00L222.14 155.90L220.62 157.80L219.09 155.90Z" fill="#e78ac3" stroke="#fff" stroke-width="0.55"/>
<path d="M232.38 153.94L233.90 155.84L232.38 157.74L230.86 155.84Z" fill="#e78ac3" stroke="#fff" stroke-width="0.55"/>
<path d="M244.15 153.85L245.67 155.75L244.15 157.65L242.63 155.75Z" fill="#e78ac3" stroke="#fff" stroke-width="0.55"/>
<path d="M267.69 153.69L269.20 155.59L267.69 157.49L266.17 155.59Z" fill="#e78ac3" stroke="#fff" stroke-width="0.55"/>
<path d="M291.22 153.54L292.74 155.44L291.22 157.34L289.70 155.44Z" fill="#e78ac3" stroke="#fff" stroke-width="0.55"/>
<path d="M314.75 153.39L316.27 155.29L314.75 157.19L313.24 155.29Z" fill="#e78ac3" stroke="#fff" stroke-width="0.55"/>
</g>
<g clip-path="url(#cb1)">
<polyline points="199.43,256.06 204.14,238.71 208.85,231.00 213.55,226.32 220.62,221.40 232.38,215.13 244.15,210.60 267.69,205.09" fill="none" stroke="#a6d854" stroke-width="1.7" stroke-linejoin="round"/>
<circle cx="199.43" cy="256.06" r="2.30" fill="#a6d854" stroke="#fff" stroke-width="0.55"/>
<circle cx="204.14" cy="238.71" r="2.30" fill="#a6d854" stroke="#fff" stroke-width="0.55"/>
<circle cx="208.85" cy="231.00" r="2.30" fill="#a6d854" stroke="#fff" stroke-width="0.55"/>
<circle cx="213.55" cy="226.32" r="2.30" fill="#a6d854" stroke="#fff" stroke-width="0.55"/>
<circle cx="220.62" cy="221.40" r="2.30" fill="#a6d854" stroke="#fff" stroke-width="0.55"/>
<circle cx="232.38" cy="215.13" r="2.30" fill="#a6d854" stroke="#fff" stroke-width="0.55"/>
<circle cx="244.15" cy="210.60" r="2.30" fill="#a6d854" stroke="#fff" stroke-width="0.55"/>
<circle cx="267.69" cy="205.09" r="2.30" fill="#a6d854" stroke="#fff" stroke-width="0.55"/>
<polyline points="199.43,258.00 204.14,241.11 208.85,233.40 213.55,228.49 220.62,223.39 232.38,217.11 244.15,213.10" fill="none" stroke="#ffd92f" stroke-width="1.7" stroke-linejoin="round"/>
<path d="M199.43 255.90L201.11 258.00L199.43 260.10L197.75 258.00Z" fill="#ffd92f" stroke="#fff" stroke-width="0.55"/>
<path d="M204.14 239.01L205.82 241.11L204.14 243.21L202.46 241.11Z" fill="#ffd92f" stroke="#fff" stroke-width="0.55"/>
<path d="M208.85 231.30L210.53 233.40L208.85 235.50L207.17 233.40Z" fill="#ffd92f" stroke="#fff" stroke-width="0.55"/>
<path d="M213.55 226.39L215.23 228.49L213.55 230.59L211.87 228.49Z" fill="#ffd92f" stroke="#fff" stroke-width="0.55"/>
<path d="M220.62 221.29L222.30 223.39L220.62 225.49L218.94 223.39Z" fill="#ffd92f" stroke="#fff" stroke-width="0.55"/>
<path d="M232.38 215.01L234.06 217.11L232.38 219.21L230.70 217.11Z" fill="#ffd92f" stroke="#fff" stroke-width="0.55"/>
<path d="M244.15 211.00L245.83 213.10L244.15 215.20L242.47 213.10Z" fill="#ffd92f" stroke="#fff" stroke-width="0.55"/>
<polyline points="199.43,261.64 204.14,251.86 208.85,241.68 213.55,235.99 220.62,230.38 232.38,227.31 244.15,226.95 267.69,226.78 291.22,226.78 314.75,226.78" fill="none" stroke="#66c2a5" stroke-width="1.5" stroke-linejoin="round"/>
<path d="M198.63 259.04H200.23V260.84H202.03V262.44H200.23V264.24H198.63V262.44H196.83V260.84H198.63Z" fill="#66c2a5" stroke="#fff" stroke-width="0.55"/>
<path d="M203.34 249.26H204.94V251.06H206.74V252.66H204.94V254.46H203.34V252.66H201.54V251.06H203.34Z" fill="#66c2a5" stroke="#fff" stroke-width="0.55"/>
<path d="M208.05 239.08H209.65V240.88H211.45V242.48H209.65V244.28H208.05V242.48H206.25V240.88H208.05Z" fill="#66c2a5" stroke="#fff" stroke-width="0.55"/>
<path d="M212.75 233.39H214.35V235.19H216.15V236.79H214.35V238.59H212.75V236.79H210.95V235.19H212.75Z" fill="#66c2a5" stroke="#fff" stroke-width="0.55"/>
<path d="M219.81 227.78H221.42V229.58H223.22V231.18H221.42V232.98H219.81V231.18H218.02V229.58H219.81Z" fill="#66c2a5" stroke="#fff" stroke-width="0.55"/>
<path d="M231.58 224.71H233.18V226.51H234.98V228.11H233.18V229.91H231.58V228.11H229.78V226.51H231.58Z" fill="#66c2a5" stroke="#fff" stroke-width="0.55"/>
<path d="M243.35 224.35H244.95V226.15H246.75V227.75H244.95V229.55H243.35V227.75H241.55V226.15H243.35Z" fill="#66c2a5" stroke="#fff" stroke-width="0.55"/>
<path d="M266.88 224.18H268.49V225.98H270.29V227.58H268.49V229.38H266.88V227.58H265.08V225.98H266.88Z" fill="#66c2a5" stroke="#fff" stroke-width="0.55"/>
<path d="M290.42 224.18H292.02V225.98H293.82V227.58H292.02V229.38H290.42V227.58H288.62V225.98H290.42Z" fill="#66c2a5" stroke="#fff" stroke-width="0.55"/>
<path d="M313.95 224.18H315.56V225.98H317.36V227.58H315.56V229.38H313.95V227.58H312.15V225.98H313.95Z" fill="#66c2a5" stroke="#fff" stroke-width="0.55"/>
<polyline points="199.43,275.80 204.14,270.19 208.85,260.78 213.55,255.66 220.62,249.35 232.38,242.82 244.15,238.71 267.69,232.50 291.22,227.80 314.75,224.20" fill="none" stroke="#fc8d62" stroke-width="1.4" stroke-linejoin="round"/>
<rect x="197.83" y="274.20" width="3.20" height="3.20" fill="#fc8d62" stroke="#fff" stroke-width="0.55"/>
<rect x="202.54" y="268.59" width="3.20" height="3.20" fill="#fc8d62" stroke="#fff" stroke-width="0.55"/>
<rect x="207.25" y="259.18" width="3.20" height="3.20" fill="#fc8d62" stroke="#fff" stroke-width="0.55"/>
<rect x="211.95" y="254.06" width="3.20" height="3.20" fill="#fc8d62" stroke="#fff" stroke-width="0.55"/>
<rect x="219.02" y="247.75" width="3.20" height="3.20" fill="#fc8d62" stroke="#fff" stroke-width="0.55"/>
<rect x="230.78" y="241.22" width="3.20" height="3.20" fill="#fc8d62" stroke="#fff" stroke-width="0.55"/>
<rect x="242.55" y="237.11" width="3.20" height="3.20" fill="#fc8d62" stroke="#fff" stroke-width="0.55"/>
<rect x="266.08" y="230.90" width="3.20" height="3.20" fill="#fc8d62" stroke="#fff" stroke-width="0.55"/>
<rect x="289.62" y="226.20" width="3.20" height="3.20" fill="#fc8d62" stroke="#fff" stroke-width="0.55"/>
<rect x="313.15" y="222.60" width="3.20" height="3.20" fill="#fc8d62" stroke="#fff" stroke-width="0.55"/>
<polyline points="199.43,289.63 204.14,289.24 208.85,288.58 213.55,287.96 220.62,286.86 232.38,285.16 244.15,284.32 267.69,282.63 291.22,279.30 314.75,275.95" fill="none" stroke="#8da0cb" stroke-width="1.15" stroke-linejoin="round"/>
<path d="M197.83 288.03L201.03 291.23M201.03 288.03L197.83 291.23" stroke="#fff" stroke-width="2.00" fill="none"/><path d="M197.83 288.03L201.03 291.23M201.03 288.03L197.83 291.23" stroke="#8da0cb" stroke-width="1.05" fill="none"/>
<path d="M202.54 287.64L205.74 290.84M205.74 287.64L202.54 290.84" stroke="#fff" stroke-width="2.00" fill="none"/><path d="M202.54 287.64L205.74 290.84M205.74 287.64L202.54 290.84" stroke="#8da0cb" stroke-width="1.05" fill="none"/>
<path d="M207.25 286.98L210.45 290.18M210.45 286.98L207.25 290.18" stroke="#fff" stroke-width="2.00" fill="none"/><path d="M207.25 286.98L210.45 290.18M210.45 286.98L207.25 290.18" stroke="#8da0cb" stroke-width="1.05" fill="none"/>
<path d="M211.95 286.36L215.15 289.56M215.15 286.36L211.95 289.56" stroke="#fff" stroke-width="2.00" fill="none"/><path d="M211.95 286.36L215.15 289.56M215.15 286.36L211.95 289.56" stroke="#8da0cb" stroke-width="1.05" fill="none"/>
<path d="M219.02 285.26L222.22 288.46M222.22 285.26L219.02 288.46" stroke="#fff" stroke-width="2.00" fill="none"/><path d="M219.02 285.26L222.22 288.46M222.22 285.26L219.02 288.46" stroke="#8da0cb" stroke-width="1.05" fill="none"/>
<path d="M230.78 283.56L233.98 286.76M233.98 283.56L230.78 286.76" stroke="#fff" stroke-width="2.00" fill="none"/><path d="M230.78 283.56L233.98 286.76M233.98 283.56L230.78 286.76" stroke="#8da0cb" stroke-width="1.05" fill="none"/>
<path d="M242.55 282.72L245.75 285.92M245.75 282.72L242.55 285.92" stroke="#fff" stroke-width="2.00" fill="none"/><path d="M242.55 282.72L245.75 285.92M245.75 282.72L242.55 285.92" stroke="#8da0cb" stroke-width="1.05" fill="none"/>
<path d="M266.08 281.03L269.29 284.23M269.29 281.03L266.08 284.23" stroke="#fff" stroke-width="2.00" fill="none"/><path d="M266.08 281.03L269.29 284.23M269.29 281.03L266.08 284.23" stroke="#8da0cb" stroke-width="1.05" fill="none"/>
<path d="M289.62 277.70L292.82 280.90M292.82 277.70L289.62 280.90" stroke="#fff" stroke-width="2.00" fill="none"/><path d="M289.62 277.70L292.82 280.90M292.82 277.70L289.62 280.90" stroke="#8da0cb" stroke-width="1.05" fill="none"/>
<path d="M313.15 274.35L316.36 277.55M316.36 274.35L313.15 277.55" stroke="#fff" stroke-width="2.00" fill="none"/><path d="M313.15 274.35L316.36 277.55M316.36 274.35L313.15 277.55" stroke="#8da0cb" stroke-width="1.05" fill="none"/>
<polyline points="199.43,283.00 204.14,278.13 208.85,277.64 213.55,277.47 220.62,277.34 232.38,277.26 244.15,277.17 267.69,276.92 291.22,276.51 314.75,275.95" fill="none" stroke="#e78ac3" stroke-width="1.35" stroke-linejoin="round"/>
<path d="M199.43 281.10L200.95 283.00L199.43 284.90L197.91 283.00Z" fill="#e78ac3" stroke="#fff" stroke-width="0.55"/>
<path d="M204.14 276.23L205.66 278.13L204.14 280.03L202.62 278.13Z" fill="#e78ac3" stroke="#fff" stroke-width="0.55"/>
<path d="M208.85 275.74L210.37 277.64L208.85 279.54L207.33 277.64Z" fill="#e78ac3" stroke="#fff" stroke-width="0.55"/>
<path d="M213.55 275.57L215.07 277.47L213.55 279.37L212.03 277.47Z" fill="#e78ac3" stroke="#fff" stroke-width="0.55"/>
<path d="M220.62 275.44L222.14 277.34L220.62 279.24L219.09 277.34Z" fill="#e78ac3" stroke="#fff" stroke-width="0.55"/>
<path d="M232.38 275.36L233.90 277.26L232.38 279.16L230.86 277.26Z" fill="#e78ac3" stroke="#fff" stroke-width="0.55"/>
<path d="M244.15 275.27L245.67 277.17L244.15 279.07L242.63 277.17Z" fill="#e78ac3" stroke="#fff" stroke-width="0.55"/>
<path d="M267.69 275.02L269.20 276.92L267.69 278.82L266.17 276.92Z" fill="#e78ac3" stroke="#fff" stroke-width="0.55"/>
<path d="M291.22 274.61L292.74 276.51L291.22 278.41L289.70 276.51Z" fill="#e78ac3" stroke="#fff" stroke-width="0.55"/>
<path d="M314.75 274.05L316.27 275.95L314.75 277.85L313.24 275.95Z" fill="#e78ac3" stroke="#fff" stroke-width="0.55"/>
</g>
<path d="M193.73 27.20V163.30H320.93" fill="none" stroke="#262626" stroke-width="1.25" stroke-linecap="butt"/>
<path d="M193.73 176.50V312.60H320.93" fill="none" stroke="#262626" stroke-width="1.25" stroke-linecap="butt"/>
<line x1="197.08" y1="163.30" x2="197.08" y2="166.80" stroke="#262626" stroke-width="1.1"/>
<line x1="197.08" y1="312.60" x2="197.08" y2="316.10" stroke="#262626" stroke-width="1.1"/>
<text x="197.08" y="322.6" font-size="6.8" text-anchor="middle" fill="#262626" textLength="3.45" lengthAdjust="spacingAndGlyphs">0</text>
<line x1="220.62" y1="163.30" x2="220.62" y2="166.80" stroke="#262626" stroke-width="1.1"/>
<line x1="220.62" y1="312.60" x2="220.62" y2="316.10" stroke="#262626" stroke-width="1.1"/>
<text x="220.62" y="322.6" font-size="6.8" text-anchor="middle" fill="#262626" textLength="7.20" lengthAdjust="spacingAndGlyphs">10</text>
<line x1="244.15" y1="163.30" x2="244.15" y2="166.80" stroke="#262626" stroke-width="1.1"/>
<line x1="244.15" y1="312.60" x2="244.15" y2="316.10" stroke="#262626" stroke-width="1.1"/>
<text x="244.15" y="322.6" font-size="6.8" text-anchor="middle" fill="#262626" textLength="7.20" lengthAdjust="spacingAndGlyphs">20</text>
<line x1="267.69" y1="163.30" x2="267.69" y2="166.80" stroke="#262626" stroke-width="1.1"/>
<line x1="267.69" y1="312.60" x2="267.69" y2="316.10" stroke="#262626" stroke-width="1.1"/>
<text x="267.69" y="322.6" font-size="6.8" text-anchor="middle" fill="#262626" textLength="7.20" lengthAdjust="spacingAndGlyphs">30</text>
<line x1="291.22" y1="163.30" x2="291.22" y2="166.80" stroke="#262626" stroke-width="1.1"/>
<line x1="291.22" y1="312.60" x2="291.22" y2="316.10" stroke="#262626" stroke-width="1.1"/>
<text x="291.22" y="322.6" font-size="6.8" text-anchor="middle" fill="#262626" textLength="7.20" lengthAdjust="spacingAndGlyphs">40</text>
<line x1="314.75" y1="163.30" x2="314.75" y2="166.80" stroke="#262626" stroke-width="1.1"/>
<line x1="314.75" y1="312.60" x2="314.75" y2="316.10" stroke="#262626" stroke-width="1.1"/>
<text x="314.75" y="322.6" font-size="6.8" text-anchor="middle" fill="#262626" textLength="7.20" lengthAdjust="spacingAndGlyphs">50</text>
<line x1="190.23" y1="163.30" x2="193.73" y2="163.30" stroke="#262626" stroke-width="1.1"/>
<line x1="190.23" y1="147.89" x2="193.73" y2="147.89" stroke="#262626" stroke-width="1.1"/>
<line x1="190.23" y1="132.47" x2="193.73" y2="132.47" stroke="#262626" stroke-width="1.1"/>
<line x1="190.23" y1="117.06" x2="193.73" y2="117.06" stroke="#262626" stroke-width="1.1"/>
<line x1="190.23" y1="101.65" x2="193.73" y2="101.65" stroke="#262626" stroke-width="1.1"/>
<line x1="190.23" y1="86.23" x2="193.73" y2="86.23" stroke="#262626" stroke-width="1.1"/>
<line x1="190.23" y1="70.82" x2="193.73" y2="70.82" stroke="#262626" stroke-width="1.1"/>
<line x1="190.23" y1="55.41" x2="193.73" y2="55.41" stroke="#262626" stroke-width="1.1"/>
<line x1="190.23" y1="39.99" x2="193.73" y2="39.99" stroke="#262626" stroke-width="1.1"/>
<line x1="191.73" y1="312.62" x2="193.73" y2="312.62" stroke="#262626" stroke-width="0.8"/>
<line x1="191.73" y1="308.41" x2="193.73" y2="308.41" stroke="#262626" stroke-width="0.8"/>
<line x1="191.73" y1="305.15" x2="193.73" y2="305.15" stroke="#262626" stroke-width="0.8"/>
<line x1="191.73" y1="302.48" x2="193.73" y2="302.48" stroke="#262626" stroke-width="0.8"/>
<line x1="191.73" y1="300.23" x2="193.73" y2="300.23" stroke="#262626" stroke-width="0.8"/>
<line x1="191.73" y1="298.27" x2="193.73" y2="298.27" stroke="#262626" stroke-width="0.8"/>
<line x1="191.73" y1="296.55" x2="193.73" y2="296.55" stroke="#262626" stroke-width="0.8"/>
<line x1="190.23" y1="295.01" x2="193.73" y2="295.01" stroke="#262626" stroke-width="1.1"/>
<line x1="191.73" y1="284.87" x2="193.73" y2="284.87" stroke="#262626" stroke-width="0.8"/>
<line x1="191.73" y1="278.95" x2="193.73" y2="278.95" stroke="#262626" stroke-width="0.8"/>
<line x1="191.73" y1="274.74" x2="193.73" y2="274.74" stroke="#262626" stroke-width="0.8"/>
<line x1="191.73" y1="271.48" x2="193.73" y2="271.48" stroke="#262626" stroke-width="0.8"/>
<line x1="191.73" y1="268.81" x2="193.73" y2="268.81" stroke="#262626" stroke-width="0.8"/>
<line x1="191.73" y1="266.56" x2="193.73" y2="266.56" stroke="#262626" stroke-width="0.8"/>
<line x1="191.73" y1="264.60" x2="193.73" y2="264.60" stroke="#262626" stroke-width="0.8"/>
<line x1="191.73" y1="262.88" x2="193.73" y2="262.88" stroke="#262626" stroke-width="0.8"/>
<line x1="190.23" y1="261.34" x2="193.73" y2="261.34" stroke="#262626" stroke-width="1.1"/>
<line x1="191.73" y1="251.20" x2="193.73" y2="251.20" stroke="#262626" stroke-width="0.8"/>
<line x1="191.73" y1="245.28" x2="193.73" y2="245.28" stroke="#262626" stroke-width="0.8"/>
<line x1="191.73" y1="241.07" x2="193.73" y2="241.07" stroke="#262626" stroke-width="0.8"/>
<line x1="191.73" y1="237.81" x2="193.73" y2="237.81" stroke="#262626" stroke-width="0.8"/>
<line x1="191.73" y1="235.14" x2="193.73" y2="235.14" stroke="#262626" stroke-width="0.8"/>
<line x1="191.73" y1="232.89" x2="193.73" y2="232.89" stroke="#262626" stroke-width="0.8"/>
<line x1="191.73" y1="230.93" x2="193.73" y2="230.93" stroke="#262626" stroke-width="0.8"/>
<line x1="191.73" y1="229.21" x2="193.73" y2="229.21" stroke="#262626" stroke-width="0.8"/>
<line x1="190.23" y1="227.67" x2="193.73" y2="227.67" stroke="#262626" stroke-width="1.1"/>
<line x1="191.73" y1="217.53" x2="193.73" y2="217.53" stroke="#262626" stroke-width="0.8"/>
<line x1="191.73" y1="211.61" x2="193.73" y2="211.61" stroke="#262626" stroke-width="0.8"/>
<line x1="191.73" y1="207.40" x2="193.73" y2="207.40" stroke="#262626" stroke-width="0.8"/>
<line x1="191.73" y1="204.14" x2="193.73" y2="204.14" stroke="#262626" stroke-width="0.8"/>
<line x1="191.73" y1="201.47" x2="193.73" y2="201.47" stroke="#262626" stroke-width="0.8"/>
<line x1="191.73" y1="199.22" x2="193.73" y2="199.22" stroke="#262626" stroke-width="0.8"/>
<line x1="191.73" y1="197.26" x2="193.73" y2="197.26" stroke="#262626" stroke-width="0.8"/>
<line x1="191.73" y1="195.54" x2="193.73" y2="195.54" stroke="#262626" stroke-width="0.8"/>
<line x1="190.23" y1="194.00" x2="193.73" y2="194.00" stroke="#262626" stroke-width="1.1"/>
<line x1="191.73" y1="183.86" x2="193.73" y2="183.86" stroke="#262626" stroke-width="0.8"/>
<line x1="191.73" y1="177.94" x2="193.73" y2="177.94" stroke="#262626" stroke-width="0.8"/>
<text x="257.33" y="329.8" font-size="7.1" text-anchor="middle" fill="#262626" textLength="28.4" lengthAdjust="spacingAndGlyphs"># traces</text>
<line x1="353.06" y1="147.89" x2="479.26" y2="147.89" stroke="#d2d2d2" stroke-width="0.7" stroke-dasharray="2.3 1.7"/>
<line x1="353.06" y1="132.47" x2="479.26" y2="132.47" stroke="#d2d2d2" stroke-width="0.7" stroke-dasharray="2.3 1.7"/>
<line x1="353.06" y1="117.06" x2="479.26" y2="117.06" stroke="#d2d2d2" stroke-width="0.7" stroke-dasharray="2.3 1.7"/>
<line x1="353.06" y1="101.65" x2="479.26" y2="101.65" stroke="#d2d2d2" stroke-width="0.7" stroke-dasharray="2.3 1.7"/>
<line x1="353.06" y1="86.23" x2="479.26" y2="86.23" stroke="#d2d2d2" stroke-width="0.7" stroke-dasharray="2.3 1.7"/>
<line x1="353.06" y1="70.82" x2="479.26" y2="70.82" stroke="#d2d2d2" stroke-width="0.7" stroke-dasharray="2.3 1.7"/>
<line x1="353.06" y1="55.41" x2="479.26" y2="55.41" stroke="#d2d2d2" stroke-width="0.7" stroke-dasharray="2.3 1.7"/>
<line x1="353.06" y1="39.99" x2="479.26" y2="39.99" stroke="#d2d2d2" stroke-width="0.7" stroke-dasharray="2.3 1.7"/>
<line x1="353.06" y1="295.01" x2="479.26" y2="295.01" stroke="#d2d2d2" stroke-width="0.7" stroke-dasharray="2.3 1.7"/>
<line x1="353.06" y1="261.34" x2="479.26" y2="261.34" stroke="#d2d2d2" stroke-width="0.7" stroke-dasharray="2.3 1.7"/>
<line x1="353.06" y1="227.67" x2="479.26" y2="227.67" stroke="#d2d2d2" stroke-width="0.7" stroke-dasharray="2.3 1.7"/>
<line x1="353.06" y1="194.00" x2="479.26" y2="194.00" stroke="#d2d2d2" stroke-width="0.7" stroke-dasharray="2.3 1.7"/>
<g clip-path="url(#ct2)">
<polyline points="357.76,160.37 362.47,153.90 367.18,148.29 371.88,142.65 378.95,133.71 390.71,118.29 402.48,104.11 426.02,75.44 449.55,46.16 473.09,15.33" fill="none" stroke="#66c2a5" stroke-width="1.5" stroke-linejoin="round"/>
<path d="M356.96 157.77H358.56V159.57H360.36V161.17H358.56V162.97H356.96V161.17H355.16V159.57H356.96Z" fill="#66c2a5" stroke="#fff" stroke-width="0.55"/>
<path d="M361.67 151.30H363.27V153.10H365.07V154.70H363.27V156.50H361.67V154.70H359.87V153.10H361.67Z" fill="#66c2a5" stroke="#fff" stroke-width="0.55"/>
<path d="M366.38 145.69H367.98V147.49H369.78V149.09H367.98V150.89H366.38V149.09H364.58V147.49H366.38Z" fill="#66c2a5" stroke="#fff" stroke-width="0.55"/>
<path d="M371.08 140.05H372.68V141.85H374.48V143.45H372.68V145.25H371.08V143.45H369.28V141.85H371.08Z" fill="#66c2a5" stroke="#fff" stroke-width="0.55"/>
<path d="M378.15 131.11H379.75V132.91H381.55V134.51H379.75V136.31H378.15V134.51H376.35V132.91H378.15Z" fill="#66c2a5" stroke="#fff" stroke-width="0.55"/>
<path d="M389.91 115.69H391.51V117.49H393.31V119.09H391.51V120.89H389.91V119.09H388.11V117.49H389.91Z" fill="#66c2a5" stroke="#fff" stroke-width="0.55"/>
<path d="M401.68 101.51H403.28V103.31H405.08V104.91H403.28V106.71H401.68V104.91H399.88V103.31H401.68Z" fill="#66c2a5" stroke="#fff" stroke-width="0.55"/>
<path d="M425.22 72.84H426.82V74.64H428.62V76.24H426.82V78.04H425.22V76.24H423.42V74.64H425.22Z" fill="#66c2a5" stroke="#fff" stroke-width="0.55"/>
<path d="M448.75 43.56H450.35V45.36H452.15V46.96H450.35V48.76H448.75V46.96H446.95V45.36H448.75Z" fill="#66c2a5" stroke="#fff" stroke-width="0.55"/>
<path d="M472.29 12.73H473.89V14.53H475.69V16.13H473.89V17.93H472.29V16.13H470.49V14.53H472.29Z" fill="#66c2a5" stroke="#fff" stroke-width="0.55"/>
<polyline points="357.76,144.50 362.47,131.86 367.18,118.91 371.88,105.35 378.95,84.69 390.71,47.08 402.48,3.00 426.02,-83.31 449.55,-175.79 473.09,-268.27" fill="none" stroke="#fc8d62" stroke-width="1.4" stroke-linejoin="round"/>
<rect x="356.16" y="142.90" width="3.20" height="3.20" fill="#fc8d62" stroke="#fff" stroke-width="0.55"/>
<rect x="360.87" y="130.26" width="3.20" height="3.20" fill="#fc8d62" stroke="#fff" stroke-width="0.55"/>
<rect x="365.58" y="117.31" width="3.20" height="3.20" fill="#fc8d62" stroke="#fff" stroke-width="0.55"/>
<rect x="370.28" y="103.75" width="3.20" height="3.20" fill="#fc8d62" stroke="#fff" stroke-width="0.55"/>
<rect x="377.35" y="83.09" width="3.20" height="3.20" fill="#fc8d62" stroke="#fff" stroke-width="0.55"/>
<rect x="389.11" y="45.48" width="3.20" height="3.20" fill="#fc8d62" stroke="#fff" stroke-width="0.55"/>
<rect x="400.88" y="1.40" width="3.20" height="3.20" fill="#fc8d62" stroke="#fff" stroke-width="0.55"/>
<rect x="424.42" y="-84.91" width="3.20" height="3.20" fill="#fc8d62" stroke="#fff" stroke-width="0.55"/>
<rect x="447.95" y="-177.39" width="3.20" height="3.20" fill="#fc8d62" stroke="#fff" stroke-width="0.55"/>
<rect x="471.49" y="-269.87" width="3.20" height="3.20" fill="#fc8d62" stroke="#fff" stroke-width="0.55"/>
<polyline points="357.76,157.13 362.47,154.36 367.18,153.74 371.88,152.82 378.95,149.89 390.71,144.59 402.48,137.71 426.02,117.98 449.55,88.70 473.09,49.55" fill="none" stroke="#8da0cb" stroke-width="1.15" stroke-linejoin="round"/>
<path d="M356.16 155.53L359.36 158.73M359.36 155.53L356.16 158.73" stroke="#fff" stroke-width="2.00" fill="none"/><path d="M356.16 155.53L359.36 158.73M359.36 155.53L356.16 158.73" stroke="#8da0cb" stroke-width="1.05" fill="none"/>
<path d="M360.87 152.76L364.07 155.96M364.07 152.76L360.87 155.96" stroke="#fff" stroke-width="2.00" fill="none"/><path d="M360.87 152.76L364.07 155.96M364.07 152.76L360.87 155.96" stroke="#8da0cb" stroke-width="1.05" fill="none"/>
<path d="M365.58 152.14L368.78 155.34M368.78 152.14L365.58 155.34" stroke="#fff" stroke-width="2.00" fill="none"/><path d="M365.58 152.14L368.78 155.34M368.78 152.14L365.58 155.34" stroke="#8da0cb" stroke-width="1.05" fill="none"/>
<path d="M370.28 151.22L373.48 154.42M373.48 151.22L370.28 154.42" stroke="#fff" stroke-width="2.00" fill="none"/><path d="M370.28 151.22L373.48 154.42M373.48 151.22L370.28 154.42" stroke="#8da0cb" stroke-width="1.05" fill="none"/>
<path d="M377.35 148.29L380.55 151.49M380.55 148.29L377.35 151.49" stroke="#fff" stroke-width="2.00" fill="none"/><path d="M377.35 148.29L380.55 151.49M380.55 148.29L377.35 151.49" stroke="#8da0cb" stroke-width="1.05" fill="none"/>
<path d="M389.11 142.99L392.31 146.19M392.31 142.99L389.11 146.19" stroke="#fff" stroke-width="2.00" fill="none"/><path d="M389.11 142.99L392.31 146.19M392.31 142.99L389.11 146.19" stroke="#8da0cb" stroke-width="1.05" fill="none"/>
<path d="M400.88 136.11L404.08 139.31M404.08 136.11L400.88 139.31" stroke="#fff" stroke-width="2.00" fill="none"/><path d="M400.88 136.11L404.08 139.31M404.08 136.11L400.88 139.31" stroke="#8da0cb" stroke-width="1.05" fill="none"/>
<path d="M424.42 116.38L427.62 119.58M427.62 116.38L424.42 119.58" stroke="#fff" stroke-width="2.00" fill="none"/><path d="M424.42 116.38L427.62 119.58M427.62 116.38L424.42 119.58" stroke="#8da0cb" stroke-width="1.05" fill="none"/>
<path d="M447.95 87.10L451.15 90.30M451.15 87.10L447.95 90.30" stroke="#fff" stroke-width="2.00" fill="none"/><path d="M447.95 87.10L451.15 90.30M451.15 87.10L447.95 90.30" stroke="#8da0cb" stroke-width="1.05" fill="none"/>
<path d="M471.49 47.95L474.69 51.15M474.69 47.95L471.49 51.15" stroke="#fff" stroke-width="2.00" fill="none"/><path d="M471.49 47.95L474.69 51.15M474.69 47.95L471.49 51.15" stroke="#8da0cb" stroke-width="1.05" fill="none"/>
<polyline points="357.76,156.61 362.47,155.90 367.18,155.44 371.88,154.98 378.95,154.36 390.71,153.59 402.48,152.91 426.02,150.82 449.55,149.21 473.09,147.12" fill="none" stroke="#e78ac3" stroke-width="1.35" stroke-linejoin="round"/>
<path d="M357.76 154.71L359.28 156.61L357.76 158.51L356.24 156.61Z" fill="#e78ac3" stroke="#fff" stroke-width="0.55"/>
<path d="M362.47 154.00L363.99 155.90L362.47 157.80L360.95 155.90Z" fill="#e78ac3" stroke="#fff" stroke-width="0.55"/>
<path d="M367.18 153.54L368.70 155.44L367.18 157.34L365.66 155.44Z" fill="#e78ac3" stroke="#fff" stroke-width="0.55"/>
<path d="M371.88 153.08L373.40 154.98L371.88 156.88L370.36 154.98Z" fill="#e78ac3" stroke="#fff" stroke-width="0.55"/>
<path d="M378.95 152.46L380.47 154.36L378.95 156.26L377.43 154.36Z" fill="#e78ac3" stroke="#fff" stroke-width="0.55"/>
<path d="M390.71 151.69L392.23 153.59L390.71 155.49L389.19 153.59Z" fill="#e78ac3" stroke="#fff" stroke-width="0.55"/>
<path d="M402.48 151.01L404.00 152.91L402.48 154.81L400.96 152.91Z" fill="#e78ac3" stroke="#fff" stroke-width="0.55"/>
<path d="M426.02 148.92L427.54 150.82L426.02 152.72L424.50 150.82Z" fill="#e78ac3" stroke="#fff" stroke-width="0.55"/>
<path d="M449.55 147.31L451.07 149.21L449.55 151.11L448.03 149.21Z" fill="#e78ac3" stroke="#fff" stroke-width="0.55"/>
<path d="M473.09 145.22L474.61 147.12L473.09 149.02L471.57 147.12Z" fill="#e78ac3" stroke="#fff" stroke-width="0.55"/>
</g>
<g clip-path="url(#cb2)">
<circle cx="357.76" cy="220.83" r="2.30" fill="#a6d854" stroke="#fff" stroke-width="0.55"/>
<path d="M357.76 220.29L359.44 222.39L357.76 224.49L356.08 222.39Z" fill="#ffd92f" stroke="#fff" stroke-width="0.55"/>
<polyline points="357.76,236.07 362.47,225.29 367.18,215.32 371.88,209.19 378.95,203.52 390.71,200.90 402.48,200.75 426.02,200.52 449.55,200.52 473.09,200.52" fill="none" stroke="#66c2a5" stroke-width="1.5" stroke-linejoin="round"/>
<path d="M356.96 233.47H358.56V235.27H360.36V236.87H358.56V238.67H356.96V236.87H355.16V235.27H356.96Z" fill="#66c2a5" stroke="#fff" stroke-width="0.55"/>
<path d="M361.67 222.69H363.27V224.49H365.07V226.09H363.27V227.89H361.67V226.09H359.87V224.49H361.67Z" fill="#66c2a5" stroke="#fff" stroke-width="0.55"/>
<path d="M366.38 212.72H367.98V214.52H369.78V216.12H367.98V217.92H366.38V216.12H364.58V214.52H366.38Z" fill="#66c2a5" stroke="#fff" stroke-width="0.55"/>
<path d="M371.08 206.59H372.68V208.39H374.48V209.99H372.68V211.79H371.08V209.99H369.28V208.39H371.08Z" fill="#66c2a5" stroke="#fff" stroke-width="0.55"/>
<path d="M378.15 200.92H379.75V202.72H381.55V204.32H379.75V206.12H378.15V204.32H376.35V202.72H378.15Z" fill="#66c2a5" stroke="#fff" stroke-width="0.55"/>
<path d="M389.91 198.30H391.51V200.10H393.31V201.70H391.51V203.50H389.91V201.70H388.11V200.10H389.91Z" fill="#66c2a5" stroke="#fff" stroke-width="0.55"/>
<path d="M401.68 198.15H403.28V199.95H405.08V201.55H403.28V203.35H401.68V201.55H399.88V199.95H401.68Z" fill="#66c2a5" stroke="#fff" stroke-width="0.55"/>
<path d="M425.22 197.92H426.82V199.72H428.62V201.32H426.82V203.12H425.22V201.32H423.42V199.72H425.22Z" fill="#66c2a5" stroke="#fff" stroke-width="0.55"/>
<path d="M448.75 197.92H450.35V199.72H452.15V201.32H450.35V203.12H448.75V201.32H446.95V199.72H448.75Z" fill="#66c2a5" stroke="#fff" stroke-width="0.55"/>
<path d="M472.29 197.92H473.89V199.72H475.69V201.32H473.89V203.12H472.29V201.32H470.49V199.72H472.29Z" fill="#66c2a5" stroke="#fff" stroke-width="0.55"/>
<polyline points="357.76,264.09 362.47,240.50 367.18,231.99 371.88,226.89 378.95,221.21 390.71,215.13 402.48,210.60 426.02,204.31 449.55,200.42" fill="none" stroke="#fc8d62" stroke-width="1.4" stroke-linejoin="round"/>
<rect x="356.16" y="262.49" width="3.20" height="3.20" fill="#fc8d62" stroke="#fff" stroke-width="0.55"/>
<rect x="360.87" y="238.90" width="3.20" height="3.20" fill="#fc8d62" stroke="#fff" stroke-width="0.55"/>
<rect x="365.58" y="230.39" width="3.20" height="3.20" fill="#fc8d62" stroke="#fff" stroke-width="0.55"/>
<rect x="370.28" y="225.29" width="3.20" height="3.20" fill="#fc8d62" stroke="#fff" stroke-width="0.55"/>
<rect x="377.35" y="219.61" width="3.20" height="3.20" fill="#fc8d62" stroke="#fff" stroke-width="0.55"/>
<rect x="389.11" y="213.53" width="3.20" height="3.20" fill="#fc8d62" stroke="#fff" stroke-width="0.55"/>
<rect x="400.88" y="209.00" width="3.20" height="3.20" fill="#fc8d62" stroke="#fff" stroke-width="0.55"/>
<rect x="424.42" y="202.71" width="3.20" height="3.20" fill="#fc8d62" stroke="#fff" stroke-width="0.55"/>
<rect x="447.95" y="198.82" width="3.20" height="3.20" fill="#fc8d62" stroke="#fff" stroke-width="0.55"/>
<polyline points="357.76,259.97 362.47,258.95 367.18,258.71 371.88,258.59 378.95,258.47 390.71,258.35 402.48,258.23 426.02,258.00 449.55,257.88 473.09,257.77" fill="none" stroke="#8da0cb" stroke-width="1.15" stroke-linejoin="round"/>
<path d="M356.16 258.37L359.36 261.57M359.36 258.37L356.16 261.57" stroke="#fff" stroke-width="2.00" fill="none"/><path d="M356.16 258.37L359.36 261.57M359.36 258.37L356.16 261.57" stroke="#8da0cb" stroke-width="1.05" fill="none"/>
<path d="M360.87 257.35L364.07 260.55M364.07 257.35L360.87 260.55" stroke="#fff" stroke-width="2.00" fill="none"/><path d="M360.87 257.35L364.07 260.55M364.07 257.35L360.87 260.55" stroke="#8da0cb" stroke-width="1.05" fill="none"/>
<path d="M365.58 257.11L368.78 260.31M368.78 257.11L365.58 260.31" stroke="#fff" stroke-width="2.00" fill="none"/><path d="M365.58 257.11L368.78 260.31M368.78 257.11L365.58 260.31" stroke="#8da0cb" stroke-width="1.05" fill="none"/>
<path d="M370.28 256.99L373.48 260.19M373.48 256.99L370.28 260.19" stroke="#fff" stroke-width="2.00" fill="none"/><path d="M370.28 256.99L373.48 260.19M373.48 256.99L370.28 260.19" stroke="#8da0cb" stroke-width="1.05" fill="none"/>
<path d="M377.35 256.87L380.55 260.07M380.55 256.87L377.35 260.07" stroke="#fff" stroke-width="2.00" fill="none"/><path d="M377.35 256.87L380.55 260.07M380.55 256.87L377.35 260.07" stroke="#8da0cb" stroke-width="1.05" fill="none"/>
<path d="M389.11 256.75L392.31 259.95M392.31 256.75L389.11 259.95" stroke="#fff" stroke-width="2.00" fill="none"/><path d="M389.11 256.75L392.31 259.95M392.31 256.75L389.11 259.95" stroke="#8da0cb" stroke-width="1.05" fill="none"/>
<path d="M400.88 256.63L404.08 259.83M404.08 256.63L400.88 259.83" stroke="#fff" stroke-width="2.00" fill="none"/><path d="M400.88 256.63L404.08 259.83M404.08 256.63L400.88 259.83" stroke="#8da0cb" stroke-width="1.05" fill="none"/>
<path d="M424.42 256.40L427.62 259.60M427.62 256.40L424.42 259.60" stroke="#fff" stroke-width="2.00" fill="none"/><path d="M424.42 256.40L427.62 259.60M427.62 256.40L424.42 259.60" stroke="#8da0cb" stroke-width="1.05" fill="none"/>
<path d="M447.95 256.28L451.15 259.48M451.15 256.28L447.95 259.48" stroke="#fff" stroke-width="2.00" fill="none"/><path d="M447.95 256.28L451.15 259.48M451.15 256.28L447.95 259.48" stroke="#8da0cb" stroke-width="1.05" fill="none"/>
<path d="M471.49 256.17L474.69 259.37M474.69 256.17L471.49 259.37" stroke="#fff" stroke-width="2.00" fill="none"/><path d="M471.49 256.17L474.69 259.37M474.69 256.17L471.49 259.37" stroke="#8da0cb" stroke-width="1.05" fill="none"/>
<polyline points="357.76,257.43 362.47,256.06 367.18,256.06 371.88,256.06 378.95,256.06 390.71,256.06 402.48,256.06 426.02,256.06 449.55,256.06 473.09,256.06" fill="none" stroke="#e78ac3" stroke-width="1.35" stroke-linejoin="round"/>
<path d="M357.76 255.53L359.28 257.43L357.76 259.33L356.24 257.43Z" fill="#e78ac3" stroke="#fff" stroke-width="0.55"/>
<path d="M362.47 254.16L363.99 256.06L362.47 257.96L360.95 256.06Z" fill="#e78ac3" stroke="#fff" stroke-width="0.55"/>
<path d="M367.18 254.16L368.70 256.06L367.18 257.96L365.66 256.06Z" fill="#e78ac3" stroke="#fff" stroke-width="0.55"/>
<path d="M371.88 254.16L373.40 256.06L371.88 257.96L370.36 256.06Z" fill="#e78ac3" stroke="#fff" stroke-width="0.55"/>
<path d="M378.95 254.16L380.47 256.06L378.95 257.96L377.43 256.06Z" fill="#e78ac3" stroke="#fff" stroke-width="0.55"/>
<path d="M390.71 254.16L392.23 256.06L390.71 257.96L389.19 256.06Z" fill="#e78ac3" stroke="#fff" stroke-width="0.55"/>
<path d="M402.48 254.16L404.00 256.06L402.48 257.96L400.96 256.06Z" fill="#e78ac3" stroke="#fff" stroke-width="0.55"/>
<path d="M426.02 254.16L427.54 256.06L426.02 257.96L424.50 256.06Z" fill="#e78ac3" stroke="#fff" stroke-width="0.55"/>
<path d="M449.55 254.16L451.07 256.06L449.55 257.96L448.03 256.06Z" fill="#e78ac3" stroke="#fff" stroke-width="0.55"/>
<path d="M473.09 254.16L474.61 256.06L473.09 257.96L471.57 256.06Z" fill="#e78ac3" stroke="#fff" stroke-width="0.55"/>
</g>
<path d="M352.06 27.20V163.30H479.26" fill="none" stroke="#262626" stroke-width="1.25" stroke-linecap="butt"/>
<path d="M352.06 176.50V312.60H479.26" fill="none" stroke="#262626" stroke-width="1.25" stroke-linecap="butt"/>
<line x1="355.41" y1="163.30" x2="355.41" y2="166.80" stroke="#262626" stroke-width="1.1"/>
<line x1="355.41" y1="312.60" x2="355.41" y2="316.10" stroke="#262626" stroke-width="1.1"/>
<text x="355.41" y="322.6" font-size="6.8" text-anchor="middle" fill="#262626" textLength="3.45" lengthAdjust="spacingAndGlyphs">0</text>
<line x1="378.95" y1="163.30" x2="378.95" y2="166.80" stroke="#262626" stroke-width="1.1"/>
<line x1="378.95" y1="312.60" x2="378.95" y2="316.10" stroke="#262626" stroke-width="1.1"/>
<text x="378.95" y="322.6" font-size="6.8" text-anchor="middle" fill="#262626" textLength="7.20" lengthAdjust="spacingAndGlyphs">10</text>
<line x1="402.48" y1="163.30" x2="402.48" y2="166.80" stroke="#262626" stroke-width="1.1"/>
<line x1="402.48" y1="312.60" x2="402.48" y2="316.10" stroke="#262626" stroke-width="1.1"/>
<text x="402.48" y="322.6" font-size="6.8" text-anchor="middle" fill="#262626" textLength="7.20" lengthAdjust="spacingAndGlyphs">20</text>
<line x1="426.02" y1="163.30" x2="426.02" y2="166.80" stroke="#262626" stroke-width="1.1"/>
<line x1="426.02" y1="312.60" x2="426.02" y2="316.10" stroke="#262626" stroke-width="1.1"/>
<text x="426.02" y="322.6" font-size="6.8" text-anchor="middle" fill="#262626" textLength="7.20" lengthAdjust="spacingAndGlyphs">30</text>
<line x1="449.55" y1="163.30" x2="449.55" y2="166.80" stroke="#262626" stroke-width="1.1"/>
<line x1="449.55" y1="312.60" x2="449.55" y2="316.10" stroke="#262626" stroke-width="1.1"/>
<text x="449.55" y="322.6" font-size="6.8" text-anchor="middle" fill="#262626" textLength="7.20" lengthAdjust="spacingAndGlyphs">40</text>
<line x1="473.09" y1="163.30" x2="473.09" y2="166.80" stroke="#262626" stroke-width="1.1"/>
<line x1="473.09" y1="312.60" x2="473.09" y2="316.10" stroke="#262626" stroke-width="1.1"/>
<text x="473.09" y="322.6" font-size="6.8" text-anchor="middle" fill="#262626" textLength="7.20" lengthAdjust="spacingAndGlyphs">50</text>
<line x1="348.56" y1="163.30" x2="352.06" y2="163.30" stroke="#262626" stroke-width="1.1"/>
<line x1="348.56" y1="147.89" x2="352.06" y2="147.89" stroke="#262626" stroke-width="1.1"/>
<line x1="348.56" y1="132.47" x2="352.06" y2="132.47" stroke="#262626" stroke-width="1.1"/>
<line x1="348.56" y1="117.06" x2="352.06" y2="117.06" stroke="#262626" stroke-width="1.1"/>
<line x1="348.56" y1="101.65" x2="352.06" y2="101.65" stroke="#262626" stroke-width="1.1"/>
<line x1="348.56" y1="86.23" x2="352.06" y2="86.23" stroke="#262626" stroke-width="1.1"/>
<line x1="348.56" y1="70.82" x2="352.06" y2="70.82" stroke="#262626" stroke-width="1.1"/>
<line x1="348.56" y1="55.41" x2="352.06" y2="55.41" stroke="#262626" stroke-width="1.1"/>
<line x1="348.56" y1="39.99" x2="352.06" y2="39.99" stroke="#262626" stroke-width="1.1"/>
<line x1="350.06" y1="312.62" x2="352.06" y2="312.62" stroke="#262626" stroke-width="0.8"/>
<line x1="350.06" y1="308.41" x2="352.06" y2="308.41" stroke="#262626" stroke-width="0.8"/>
<line x1="350.06" y1="305.15" x2="352.06" y2="305.15" stroke="#262626" stroke-width="0.8"/>
<line x1="350.06" y1="302.48" x2="352.06" y2="302.48" stroke="#262626" stroke-width="0.8"/>
<line x1="350.06" y1="300.23" x2="352.06" y2="300.23" stroke="#262626" stroke-width="0.8"/>
<line x1="350.06" y1="298.27" x2="352.06" y2="298.27" stroke="#262626" stroke-width="0.8"/>
<line x1="350.06" y1="296.55" x2="352.06" y2="296.55" stroke="#262626" stroke-width="0.8"/>
<line x1="348.56" y1="295.01" x2="352.06" y2="295.01" stroke="#262626" stroke-width="1.1"/>
<line x1="350.06" y1="284.87" x2="352.06" y2="284.87" stroke="#262626" stroke-width="0.8"/>
<line x1="350.06" y1="278.95" x2="352.06" y2="278.95" stroke="#262626" stroke-width="0.8"/>
<line x1="350.06" y1="274.74" x2="352.06" y2="274.74" stroke="#262626" stroke-width="0.8"/>
<line x1="350.06" y1="271.48" x2="352.06" y2="271.48" stroke="#262626" stroke-width="0.8"/>
<line x1="350.06" y1="268.81" x2="352.06" y2="268.81" stroke="#262626" stroke-width="0.8"/>
<line x1="350.06" y1="266.56" x2="352.06" y2="266.56" stroke="#262626" stroke-width="0.8"/>
<line x1="350.06" y1="264.60" x2="352.06" y2="264.60" stroke="#262626" stroke-width="0.8"/>
<line x1="350.06" y1="262.88" x2="352.06" y2="262.88" stroke="#262626" stroke-width="0.8"/>
<line x1="348.56" y1="261.34" x2="352.06" y2="261.34" stroke="#262626" stroke-width="1.1"/>
<line x1="350.06" y1="251.20" x2="352.06" y2="251.20" stroke="#262626" stroke-width="0.8"/>
<line x1="350.06" y1="245.28" x2="352.06" y2="245.28" stroke="#262626" stroke-width="0.8"/>
<line x1="350.06" y1="241.07" x2="352.06" y2="241.07" stroke="#262626" stroke-width="0.8"/>
<line x1="350.06" y1="237.81" x2="352.06" y2="237.81" stroke="#262626" stroke-width="0.8"/>
<line x1="350.06" y1="235.14" x2="352.06" y2="235.14" stroke="#262626" stroke-width="0.8"/>
<line x1="350.06" y1="232.89" x2="352.06" y2="232.89" stroke="#262626" stroke-width="0.8"/>
<line x1="350.06" y1="230.93" x2="352.06" y2="230.93" stroke="#262626" stroke-width="0.8"/>
<line x1="350.06" y1="229.21" x2="352.06" y2="229.21" stroke="#262626" stroke-width="0.8"/>
<line x1="348.56" y1="227.67" x2="352.06" y2="227.67" stroke="#262626" stroke-width="1.1"/>
<line x1="350.06" y1="217.53" x2="352.06" y2="217.53" stroke="#262626" stroke-width="0.8"/>
<line x1="350.06" y1="211.61" x2="352.06" y2="211.61" stroke="#262626" stroke-width="0.8"/>
<line x1="350.06" y1="207.40" x2="352.06" y2="207.40" stroke="#262626" stroke-width="0.8"/>
<line x1="350.06" y1="204.14" x2="352.06" y2="204.14" stroke="#262626" stroke-width="0.8"/>
<line x1="350.06" y1="201.47" x2="352.06" y2="201.47" stroke="#262626" stroke-width="0.8"/>
<line x1="350.06" y1="199.22" x2="352.06" y2="199.22" stroke="#262626" stroke-width="0.8"/>
<line x1="350.06" y1="197.26" x2="352.06" y2="197.26" stroke="#262626" stroke-width="0.8"/>
<line x1="350.06" y1="195.54" x2="352.06" y2="195.54" stroke="#262626" stroke-width="0.8"/>
<line x1="348.56" y1="194.00" x2="352.06" y2="194.00" stroke="#262626" stroke-width="1.1"/>
<line x1="350.06" y1="183.86" x2="352.06" y2="183.86" stroke="#262626" stroke-width="0.8"/>
<line x1="350.06" y1="177.94" x2="352.06" y2="177.94" stroke="#262626" stroke-width="0.8"/>
<text x="415.66" y="329.8" font-size="7.1" text-anchor="middle" fill="#262626" textLength="28.4" lengthAdjust="spacingAndGlyphs"># traces</text>
<line x1="511.39" y1="147.89" x2="637.59" y2="147.89" stroke="#d2d2d2" stroke-width="0.7" stroke-dasharray="2.3 1.7"/>
<line x1="511.39" y1="132.47" x2="637.59" y2="132.47" stroke="#d2d2d2" stroke-width="0.7" stroke-dasharray="2.3 1.7"/>
<line x1="511.39" y1="117.06" x2="637.59" y2="117.06" stroke="#d2d2d2" stroke-width="0.7" stroke-dasharray="2.3 1.7"/>
<line x1="511.39" y1="101.65" x2="637.59" y2="101.65" stroke="#d2d2d2" stroke-width="0.7" stroke-dasharray="2.3 1.7"/>
<line x1="511.39" y1="86.23" x2="637.59" y2="86.23" stroke="#d2d2d2" stroke-width="0.7" stroke-dasharray="2.3 1.7"/>
<line x1="511.39" y1="70.82" x2="637.59" y2="70.82" stroke="#d2d2d2" stroke-width="0.7" stroke-dasharray="2.3 1.7"/>
<line x1="511.39" y1="55.41" x2="637.59" y2="55.41" stroke="#d2d2d2" stroke-width="0.7" stroke-dasharray="2.3 1.7"/>
<line x1="511.39" y1="39.99" x2="637.59" y2="39.99" stroke="#d2d2d2" stroke-width="0.7" stroke-dasharray="2.3 1.7"/>
<line x1="511.39" y1="295.01" x2="637.59" y2="295.01" stroke="#d2d2d2" stroke-width="0.7" stroke-dasharray="2.3 1.7"/>
<line x1="511.39" y1="261.34" x2="637.59" y2="261.34" stroke="#d2d2d2" stroke-width="0.7" stroke-dasharray="2.3 1.7"/>
<line x1="511.39" y1="227.67" x2="637.59" y2="227.67" stroke="#d2d2d2" stroke-width="0.7" stroke-dasharray="2.3 1.7"/>
<line x1="511.39" y1="194.00" x2="637.59" y2="194.00" stroke="#d2d2d2" stroke-width="0.7" stroke-dasharray="2.3 1.7"/>
<g clip-path="url(#ct3)">
<polyline points="516.09,153.13 520.80,133.09 525.51,113.36 530.21,92.40 537.27,63.11 549.04,9.17 560.81,-40.16 584.35,-132.64 607.88,-222.03 631.41,-314.51" fill="none" stroke="#66c2a5" stroke-width="1.5" stroke-linejoin="round"/>
<path d="M515.29 150.53H516.89V152.33H518.69V153.93H516.89V155.73H515.29V153.93H513.49V152.33H515.29Z" fill="#66c2a5" stroke="#fff" stroke-width="0.55"/>
<path d="M520.00 130.49H521.60V132.29H523.40V133.89H521.60V135.69H520.00V133.89H518.20V132.29H520.00Z" fill="#66c2a5" stroke="#fff" stroke-width="0.55"/>
<path d="M524.71 110.76H526.31V112.56H528.11V114.16H526.31V115.96H524.71V114.16H522.91V112.56H524.71Z" fill="#66c2a5" stroke="#fff" stroke-width="0.55"/>
<path d="M529.41 89.80H531.01V91.60H532.81V93.20H531.01V95.00H529.41V93.20H527.61V91.60H529.41Z" fill="#66c2a5" stroke="#fff" stroke-width="0.55"/>
<path d="M536.48 60.51H538.07V62.31H539.88V63.91H538.07V65.71H536.48V63.91H534.67V62.31H536.48Z" fill="#66c2a5" stroke="#fff" stroke-width="0.55"/>
<path d="M548.24 6.57H549.84V8.37H551.64V9.97H549.84V11.77H548.24V9.97H546.44V8.37H548.24Z" fill="#66c2a5" stroke="#fff" stroke-width="0.55"/>
<path d="M560.01 -42.76H561.61V-40.96H563.41V-39.36H561.61V-37.56H560.01V-39.36H558.21V-40.96H560.01Z" fill="#66c2a5" stroke="#fff" stroke-width="0.55"/>
<path d="M583.55 -135.24H585.14V-133.44H586.95V-131.84H585.14V-130.04H583.55V-131.84H581.75V-133.44H583.55Z" fill="#66c2a5" stroke="#fff" stroke-width="0.55"/>
<path d="M607.08 -224.63H608.68V-222.83H610.48V-221.23H608.68V-219.43H607.08V-221.23H605.28V-222.83H607.08Z" fill="#66c2a5" stroke="#fff" stroke-width="0.55"/>
<path d="M630.62 -317.11H632.21V-315.31H634.01V-313.71H632.21V-311.91H630.62V-313.71H628.81V-315.31H630.62Z" fill="#66c2a5" stroke="#fff" stroke-width="0.55"/>
<polyline points="516.09,121.99 520.80,65.58 525.51,-6.25 530.21,-83.31 537.27,-175.79 549.04,-329.93 560.81,-484.06 584.35,-792.33 607.88,-1100.60 631.41,-1408.86" fill="none" stroke="#fc8d62" stroke-width="1.4" stroke-linejoin="round"/>
<rect x="514.49" y="120.39" width="3.20" height="3.20" fill="#fc8d62" stroke="#fff" stroke-width="0.55"/>
<rect x="519.20" y="63.98" width="3.20" height="3.20" fill="#fc8d62" stroke="#fff" stroke-width="0.55"/>
<rect x="523.91" y="-7.85" width="3.20" height="3.20" fill="#fc8d62" stroke="#fff" stroke-width="0.55"/>
<rect x="528.61" y="-84.91" width="3.20" height="3.20" fill="#fc8d62" stroke="#fff" stroke-width="0.55"/>
<rect x="535.67" y="-177.39" width="3.20" height="3.20" fill="#fc8d62" stroke="#fff" stroke-width="0.55"/>
<rect x="547.44" y="-331.53" width="3.20" height="3.20" fill="#fc8d62" stroke="#fff" stroke-width="0.55"/>
<rect x="559.21" y="-485.66" width="3.20" height="3.20" fill="#fc8d62" stroke="#fff" stroke-width="0.55"/>
<rect x="582.75" y="-793.93" width="3.20" height="3.20" fill="#fc8d62" stroke="#fff" stroke-width="0.55"/>
<rect x="606.28" y="-1102.20" width="3.20" height="3.20" fill="#fc8d62" stroke="#fff" stroke-width="0.55"/>
<rect x="629.81" y="-1410.46" width="3.20" height="3.20" fill="#fc8d62" stroke="#fff" stroke-width="0.55"/>
<polyline points="516.09,155.99 520.80,152.20 525.51,149.43 530.21,145.20 537.27,139.26 549.04,127.85 560.81,115.83 584.35,85.31 607.88,47.08 631.41,-9.33" fill="none" stroke="#8da0cb" stroke-width="1.15" stroke-linejoin="round"/>
<path d="M514.49 154.39L517.69 157.59M517.69 154.39L514.49 157.59" stroke="#fff" stroke-width="2.00" fill="none"/><path d="M514.49 154.39L517.69 157.59M517.69 154.39L514.49 157.59" stroke="#8da0cb" stroke-width="1.05" fill="none"/>
<path d="M519.20 150.60L522.40 153.80M522.40 150.60L519.20 153.80" stroke="#fff" stroke-width="2.00" fill="none"/><path d="M519.20 150.60L522.40 153.80M522.40 150.60L519.20 153.80" stroke="#8da0cb" stroke-width="1.05" fill="none"/>
<path d="M523.91 147.83L527.11 151.03M527.11 147.83L523.91 151.03" stroke="#fff" stroke-width="2.00" fill="none"/><path d="M523.91 147.83L527.11 151.03M527.11 147.83L523.91 151.03" stroke="#8da0cb" stroke-width="1.05" fill="none"/>
<path d="M528.61 143.60L531.81 146.80M531.81 143.60L528.61 146.80" stroke="#fff" stroke-width="2.00" fill="none"/><path d="M528.61 143.60L531.81 146.80M531.81 143.60L528.61 146.80" stroke="#8da0cb" stroke-width="1.05" fill="none"/>
<path d="M535.67 137.66L538.88 140.86M538.88 137.66L535.67 140.86" stroke="#fff" stroke-width="2.00" fill="none"/><path d="M535.67 137.66L538.88 140.86M538.88 137.66L535.67 140.86" stroke="#8da0cb" stroke-width="1.05" fill="none"/>
<path d="M547.44 126.25L550.64 129.45M550.64 126.25L547.44 129.45" stroke="#fff" stroke-width="2.00" fill="none"/><path d="M547.44 126.25L550.64 129.45M550.64 126.25L547.44 129.45" stroke="#8da0cb" stroke-width="1.05" fill="none"/>
<path d="M559.21 114.23L562.41 117.43M562.41 114.23L559.21 117.43" stroke="#fff" stroke-width="2.00" fill="none"/><path d="M559.21 114.23L562.41 117.43M562.41 114.23L559.21 117.43" stroke="#8da0cb" stroke-width="1.05" fill="none"/>
<path d="M582.75 83.71L585.95 86.91M585.95 83.71L582.75 86.91" stroke="#fff" stroke-width="2.00" fill="none"/><path d="M582.75 83.71L585.95 86.91M585.95 83.71L582.75 86.91" stroke="#8da0cb" stroke-width="1.05" fill="none"/>
<path d="M606.28 45.48L609.48 48.68M609.48 45.48L606.28 48.68" stroke="#fff" stroke-width="2.00" fill="none"/><path d="M606.28 45.48L609.48 48.68M609.48 45.48L606.28 48.68" stroke="#8da0cb" stroke-width="1.05" fill="none"/>
<path d="M629.81 -10.93L633.01 -7.73M633.01 -10.93L629.81 -7.73" stroke="#fff" stroke-width="2.00" fill="none"/><path d="M629.81 -10.93L633.01 -7.73M633.01 -10.93L629.81 -7.73" stroke="#8da0cb" stroke-width="1.05" fill="none"/>
<polyline points="516.09,156.39 520.80,153.90 525.51,152.51 530.21,150.97 537.27,148.29 549.04,143.42 560.81,138.64 584.35,129.70 607.88,120.45 631.41,111.82" fill="none" stroke="#e78ac3" stroke-width="1.35" stroke-linejoin="round"/>
<path d="M516.09 154.49L517.61 156.39L516.09 158.29L514.57 156.39Z" fill="#e78ac3" stroke="#fff" stroke-width="0.55"/>
<path d="M520.80 152.00L522.32 153.90L520.80 155.80L519.28 153.90Z" fill="#e78ac3" stroke="#fff" stroke-width="0.55"/>
<path d="M525.51 150.61L527.03 152.51L525.51 154.41L523.99 152.51Z" fill="#e78ac3" stroke="#fff" stroke-width="0.55"/>
<path d="M530.21 149.07L531.73 150.97L530.21 152.87L528.69 150.97Z" fill="#e78ac3" stroke="#fff" stroke-width="0.55"/>
<path d="M537.27 146.39L538.79 148.29L537.27 150.19L535.75 148.29Z" fill="#e78ac3" stroke="#fff" stroke-width="0.55"/>
<path d="M549.04 141.52L550.56 143.42L549.04 145.32L547.52 143.42Z" fill="#e78ac3" stroke="#fff" stroke-width="0.55"/>
<path d="M560.81 136.74L562.33 138.64L560.81 140.54L559.29 138.64Z" fill="#e78ac3" stroke="#fff" stroke-width="0.55"/>
<path d="M584.35 127.80L585.87 129.70L584.35 131.60L582.83 129.70Z" fill="#e78ac3" stroke="#fff" stroke-width="0.55"/>
<path d="M607.88 118.55L609.40 120.45L607.88 122.35L606.36 120.45Z" fill="#e78ac3" stroke="#fff" stroke-width="0.55"/>
<path d="M631.41 109.92L632.93 111.82L631.41 113.72L629.89 111.82Z" fill="#e78ac3" stroke="#fff" stroke-width="0.55"/>
</g>
<g clip-path="url(#cb3)">
<polyline points="516.09,214.39 520.80,204.31 525.51,194.30 530.21,188.22 537.27,182.48 549.04,179.49 560.81,179.49 584.35,179.49 607.88,179.49 631.41,179.49" fill="none" stroke="#66c2a5" stroke-width="1.5" stroke-linejoin="round"/>
<path d="M515.29 211.79H516.89V213.59H518.69V215.19H516.89V216.99H515.29V215.19H513.49V213.59H515.29Z" fill="#66c2a5" stroke="#fff" stroke-width="0.55"/>
<path d="M520.00 201.71H521.60V203.51H523.40V205.11H521.60V206.91H520.00V205.11H518.20V203.51H520.00Z" fill="#66c2a5" stroke="#fff" stroke-width="0.55"/>
<path d="M524.71 191.70H526.31V193.50H528.11V195.10H526.31V196.90H524.71V195.10H522.91V193.50H524.71Z" fill="#66c2a5" stroke="#fff" stroke-width="0.55"/>
<path d="M529.41 185.62H531.01V187.42H532.81V189.02H531.01V190.82H529.41V189.02H527.61V187.42H529.41Z" fill="#66c2a5" stroke="#fff" stroke-width="0.55"/>
<path d="M536.48 179.88H538.07V181.68H539.88V183.28H538.07V185.08H536.48V183.28H534.67V181.68H536.48Z" fill="#66c2a5" stroke="#fff" stroke-width="0.55"/>
<path d="M548.24 176.89H549.84V178.69H551.64V180.29H549.84V182.09H548.24V180.29H546.44V178.69H548.24Z" fill="#66c2a5" stroke="#fff" stroke-width="0.55"/>
<path d="M560.01 176.89H561.61V178.69H563.41V180.29H561.61V182.09H560.01V180.29H558.21V178.69H560.01Z" fill="#66c2a5" stroke="#fff" stroke-width="0.55"/>
<path d="M583.55 176.89H585.14V178.69H586.95V180.29H585.14V182.09H583.55V180.29H581.75V178.69H583.55Z" fill="#66c2a5" stroke="#fff" stroke-width="0.55"/>
<path d="M607.08 176.89H608.68V178.69H610.48V180.29H608.68V182.09H607.08V180.29H605.28V178.69H607.08Z" fill="#66c2a5" stroke="#fff" stroke-width="0.55"/>
<path d="M630.62 176.89H632.21V178.69H634.01V180.29H632.21V182.09H630.62V180.29H628.81V178.69H630.62Z" fill="#66c2a5" stroke="#fff" stroke-width="0.55"/>
<polyline points="516.09,232.29 520.80,215.61 525.51,207.50 530.21,202.39 537.27,197.40 549.04,191.31" fill="none" stroke="#fc8d62" stroke-width="1.4" stroke-linejoin="round"/>
<rect x="514.49" y="230.69" width="3.20" height="3.20" fill="#fc8d62" stroke="#fff" stroke-width="0.55"/>
<rect x="519.20" y="214.01" width="3.20" height="3.20" fill="#fc8d62" stroke="#fff" stroke-width="0.55"/>
<rect x="523.91" y="205.90" width="3.20" height="3.20" fill="#fc8d62" stroke="#fff" stroke-width="0.55"/>
<rect x="528.61" y="200.79" width="3.20" height="3.20" fill="#fc8d62" stroke="#fff" stroke-width="0.55"/>
<rect x="535.67" y="195.80" width="3.20" height="3.20" fill="#fc8d62" stroke="#fff" stroke-width="0.55"/>
<rect x="547.44" y="189.71" width="3.20" height="3.20" fill="#fc8d62" stroke="#fff" stroke-width="0.55"/>
<polyline points="516.09,235.71 520.80,235.66 525.51,235.60 530.21,235.58 537.27,235.55 549.04,235.53 560.81,235.50 584.35,235.48 607.88,235.45 631.41,235.45" fill="none" stroke="#8da0cb" stroke-width="1.15" stroke-linejoin="round"/>
<path d="M514.49 234.11L517.69 237.31M517.69 234.11L514.49 237.31" stroke="#fff" stroke-width="2.00" fill="none"/><path d="M514.49 234.11L517.69 237.31M517.69 234.11L514.49 237.31" stroke="#8da0cb" stroke-width="1.05" fill="none"/>
<path d="M519.20 234.06L522.40 237.26M522.40 234.06L519.20 237.26" stroke="#fff" stroke-width="2.00" fill="none"/><path d="M519.20 234.06L522.40 237.26M522.40 234.06L519.20 237.26" stroke="#8da0cb" stroke-width="1.05" fill="none"/>
<path d="M523.91 234.00L527.11 237.20M527.11 234.00L523.91 237.20" stroke="#fff" stroke-width="2.00" fill="none"/><path d="M523.91 234.00L527.11 237.20M527.11 234.00L523.91 237.20" stroke="#8da0cb" stroke-width="1.05" fill="none"/>
<path d="M528.61 233.98L531.81 237.18M531.81 233.98L528.61 237.18" stroke="#fff" stroke-width="2.00" fill="none"/><path d="M528.61 233.98L531.81 237.18M531.81 233.98L528.61 237.18" stroke="#8da0cb" stroke-width="1.05" fill="none"/>
<path d="M535.67 233.95L538.88 237.15M538.88 233.95L535.67 237.15" stroke="#fff" stroke-width="2.00" fill="none"/><path d="M535.67 233.95L538.88 237.15M538.88 233.95L535.67 237.15" stroke="#8da0cb" stroke-width="1.05" fill="none"/>
<path d="M547.44 233.93L550.64 237.13M550.64 233.93L547.44 237.13" stroke="#fff" stroke-width="2.00" fill="none"/><path d="M547.44 233.93L550.64 237.13M550.64 233.93L547.44 237.13" stroke="#8da0cb" stroke-width="1.05" fill="none"/>
<path d="M559.21 233.90L562.41 237.10M562.41 233.90L559.21 237.10" stroke="#fff" stroke-width="2.00" fill="none"/><path d="M559.21 233.90L562.41 237.10M562.41 233.90L559.21 237.10" stroke="#8da0cb" stroke-width="1.05" fill="none"/>
<path d="M582.75 233.88L585.95 237.08M585.95 233.88L582.75 237.08" stroke="#fff" stroke-width="2.00" fill="none"/><path d="M582.75 233.88L585.95 237.08M585.95 233.88L582.75 237.08" stroke="#8da0cb" stroke-width="1.05" fill="none"/>
<path d="M606.28 233.85L609.48 237.05M609.48 233.85L606.28 237.05" stroke="#fff" stroke-width="2.00" fill="none"/><path d="M606.28 233.85L609.48 237.05M609.48 233.85L606.28 237.05" stroke="#8da0cb" stroke-width="1.05" fill="none"/>
<path d="M629.81 233.85L633.01 237.05M633.01 233.85L629.81 237.05" stroke="#fff" stroke-width="2.00" fill="none"/><path d="M629.81 233.85L633.01 237.05M633.01 233.85L629.81 237.05" stroke="#8da0cb" stroke-width="1.05" fill="none"/>
<polyline points="516.09,235.40 520.80,235.40 525.51,235.40 530.21,235.40 537.27,235.40 549.04,235.40 560.81,235.40 584.35,235.40 607.88,235.40 631.41,235.40" fill="none" stroke="#e78ac3" stroke-width="1.35" stroke-linejoin="round"/>
<path d="M516.09 233.50L517.61 235.40L516.09 237.30L514.57 235.40Z" fill="#e78ac3" stroke="#fff" stroke-width="0.55"/>
<path d="M520.80 233.50L522.32 235.40L520.80 237.30L519.28 235.40Z" fill="#e78ac3" stroke="#fff" stroke-width="0.55"/>
<path d="M525.51 233.50L527.03 235.40L525.51 237.30L523.99 235.40Z" fill="#e78ac3" stroke="#fff" stroke-width="0.55"/>
<path d="M530.21 233.50L531.73 235.40L530.21 237.30L528.69 235.40Z" fill="#e78ac3" stroke="#fff" stroke-width="0.55"/>
<path d="M537.27 233.50L538.79 235.40L537.27 237.30L535.75 235.40Z" fill="#e78ac3" stroke="#fff" stroke-width="0.55"/>
<path d="M549.04 233.50L550.56 235.40L549.04 237.30L547.52 235.40Z" fill="#e78ac3" stroke="#fff" stroke-width="0.55"/>
<path d="M560.81 233.50L562.33 235.40L560.81 237.30L559.29 235.40Z" fill="#e78ac3" stroke="#fff" stroke-width="0.55"/>
<path d="M584.35 233.50L585.87 235.40L584.35 237.30L582.83 235.40Z" fill="#e78ac3" stroke="#fff" stroke-width="0.55"/>
<path d="M607.88 233.50L609.40 235.40L607.88 237.30L606.36 235.40Z" fill="#e78ac3" stroke="#fff" stroke-width="0.55"/>
<path d="M631.41 233.50L632.93 235.40L631.41 237.30L629.89 235.40Z" fill="#e78ac3" stroke="#fff" stroke-width="0.55"/>
</g>
<path d="M510.39 27.20V163.30H637.59" fill="none" stroke="#262626" stroke-width="1.25" stroke-linecap="butt"/>
<path d="M510.39 176.50V312.60H637.59" fill="none" stroke="#262626" stroke-width="1.25" stroke-linecap="butt"/>
<line x1="513.74" y1="163.30" x2="513.74" y2="166.80" stroke="#262626" stroke-width="1.1"/>
<line x1="513.74" y1="312.60" x2="513.74" y2="316.10" stroke="#262626" stroke-width="1.1"/>
<text x="513.74" y="322.6" font-size="6.8" text-anchor="middle" fill="#262626" textLength="3.45" lengthAdjust="spacingAndGlyphs">0</text>
<line x1="537.27" y1="163.30" x2="537.27" y2="166.80" stroke="#262626" stroke-width="1.1"/>
<line x1="537.27" y1="312.60" x2="537.27" y2="316.10" stroke="#262626" stroke-width="1.1"/>
<text x="537.27" y="322.6" font-size="6.8" text-anchor="middle" fill="#262626" textLength="7.20" lengthAdjust="spacingAndGlyphs">10</text>
<line x1="560.81" y1="163.30" x2="560.81" y2="166.80" stroke="#262626" stroke-width="1.1"/>
<line x1="560.81" y1="312.60" x2="560.81" y2="316.10" stroke="#262626" stroke-width="1.1"/>
<text x="560.81" y="322.6" font-size="6.8" text-anchor="middle" fill="#262626" textLength="7.20" lengthAdjust="spacingAndGlyphs">20</text>
<line x1="584.35" y1="163.30" x2="584.35" y2="166.80" stroke="#262626" stroke-width="1.1"/>
<line x1="584.35" y1="312.60" x2="584.35" y2="316.10" stroke="#262626" stroke-width="1.1"/>
<text x="584.35" y="322.6" font-size="6.8" text-anchor="middle" fill="#262626" textLength="7.20" lengthAdjust="spacingAndGlyphs">30</text>
<line x1="607.88" y1="163.30" x2="607.88" y2="166.80" stroke="#262626" stroke-width="1.1"/>
<line x1="607.88" y1="312.60" x2="607.88" y2="316.10" stroke="#262626" stroke-width="1.1"/>
<text x="607.88" y="322.6" font-size="6.8" text-anchor="middle" fill="#262626" textLength="7.20" lengthAdjust="spacingAndGlyphs">40</text>
<line x1="631.41" y1="163.30" x2="631.41" y2="166.80" stroke="#262626" stroke-width="1.1"/>
<line x1="631.41" y1="312.60" x2="631.41" y2="316.10" stroke="#262626" stroke-width="1.1"/>
<text x="631.41" y="322.6" font-size="6.8" text-anchor="middle" fill="#262626" textLength="7.20" lengthAdjust="spacingAndGlyphs">50</text>
<line x1="506.89" y1="163.30" x2="510.39" y2="163.30" stroke="#262626" stroke-width="1.1"/>
<line x1="506.89" y1="147.89" x2="510.39" y2="147.89" stroke="#262626" stroke-width="1.1"/>
<line x1="506.89" y1="132.47" x2="510.39" y2="132.47" stroke="#262626" stroke-width="1.1"/>
<line x1="506.89" y1="117.06" x2="510.39" y2="117.06" stroke="#262626" stroke-width="1.1"/>
<line x1="506.89" y1="101.65" x2="510.39" y2="101.65" stroke="#262626" stroke-width="1.1"/>
<line x1="506.89" y1="86.23" x2="510.39" y2="86.23" stroke="#262626" stroke-width="1.1"/>
<line x1="506.89" y1="70.82" x2="510.39" y2="70.82" stroke="#262626" stroke-width="1.1"/>
<line x1="506.89" y1="55.41" x2="510.39" y2="55.41" stroke="#262626" stroke-width="1.1"/>
<line x1="506.89" y1="39.99" x2="510.39" y2="39.99" stroke="#262626" stroke-width="1.1"/>
<line x1="508.39" y1="312.62" x2="510.39" y2="312.62" stroke="#262626" stroke-width="0.8"/>
<line x1="508.39" y1="308.41" x2="510.39" y2="308.41" stroke="#262626" stroke-width="0.8"/>
<line x1="508.39" y1="305.15" x2="510.39" y2="305.15" stroke="#262626" stroke-width="0.8"/>
<line x1="508.39" y1="302.48" x2="510.39" y2="302.48" stroke="#262626" stroke-width="0.8"/>
<line x1="508.39" y1="300.23" x2="510.39" y2="300.23" stroke="#262626" stroke-width="0.8"/>
<line x1="508.39" y1="298.27" x2="510.39" y2="298.27" stroke="#262626" stroke-width="0.8"/>
<line x1="508.39" y1="296.55" x2="510.39" y2="296.55" stroke="#262626" stroke-width="0.8"/>
<line x1="506.89" y1="295.01" x2="510.39" y2="295.01" stroke="#262626" stroke-width="1.1"/>
<line x1="508.39" y1="284.87" x2="510.39" y2="284.87" stroke="#262626" stroke-width="0.8"/>
<line x1="508.39" y1="278.95" x2="510.39" y2="278.95" stroke="#262626" stroke-width="0.8"/>
<line x1="508.39" y1="274.74" x2="510.39" y2="274.74" stroke="#262626" stroke-width="0.8"/>
<line x1="508.39" y1="271.48" x2="510.39" y2="271.48" stroke="#262626" stroke-width="0.8"/>
<line x1="508.39" y1="268.81" x2="510.39" y2="268.81" stroke="#262626" stroke-width="0.8"/>
<line x1="508.39" y1="266.56" x2="510.39" y2="266.56" stroke="#262626" stroke-width="0.8"/>
<line x1="508.39" y1="264.60" x2="510.39" y2="264.60" stroke="#262626" stroke-width="0.8"/>
<line x1="508.39" y1="262.88" x2="510.39" y2="262.88" stroke="#262626" stroke-width="0.8"/>
<line x1="506.89" y1="261.34" x2="510.39" y2="261.34" stroke="#262626" stroke-width="1.1"/>
<line x1="508.39" y1="251.20" x2="510.39" y2="251.20" stroke="#262626" stroke-width="0.8"/>
<line x1="508.39" y1="245.28" x2="510.39" y2="245.28" stroke="#262626" stroke-width="0.8"/>
<line x1="508.39" y1="241.07" x2="510.39" y2="241.07" stroke="#262626" stroke-width="0.8"/>
<line x1="508.39" y1="237.81" x2="510.39" y2="237.81" stroke="#262626" stroke-width="0.8"/>
<line x1="508.39" y1="235.14" x2="510.39" y2="235.14" stroke="#262626" stroke-width="0.8"/>
<line x1="508.39" y1="232.89" x2="510.39" y2="232.89" stroke="#262626" stroke-width="0.8"/>
<line x1="508.39" y1="230.93" x2="510.39" y2="230.93" stroke="#262626" stroke-width="0.8"/>
<line x1="508.39" y1="229.21" x2="510.39" y2="229.21" stroke="#262626" stroke-width="0.8"/>
<line x1="506.89" y1="227.67" x2="510.39" y2="227.67" stroke="#262626" stroke-width="1.1"/>
<line x1="508.39" y1="217.53" x2="510.39" y2="217.53" stroke="#262626" stroke-width="0.8"/>
<line x1="508.39" y1="211.61" x2="510.39" y2="211.61" stroke="#262626" stroke-width="0.8"/>
<line x1="508.39" y1="207.40" x2="510.39" y2="207.40" stroke="#262626" stroke-width="0.8"/>
<line x1="508.39" y1="204.14" x2="510.39" y2="204.14" stroke="#262626" stroke-width="0.8"/>
<line x1="508.39" y1="201.47" x2="510.39" y2="201.47" stroke="#262626" stroke-width="0.8"/>
<line x1="508.39" y1="199.22" x2="510.39" y2="199.22" stroke="#262626" stroke-width="0.8"/>
<line x1="508.39" y1="197.26" x2="510.39" y2="197.26" stroke="#262626" stroke-width="0.8"/>
<line x1="508.39" y1="195.54" x2="510.39" y2="195.54" stroke="#262626" stroke-width="0.8"/>
<line x1="506.89" y1="194.00" x2="510.39" y2="194.00" stroke="#262626" stroke-width="1.1"/>
<line x1="508.39" y1="183.86" x2="510.39" y2="183.86" stroke="#262626" stroke-width="0.8"/>
<line x1="508.39" y1="177.94" x2="510.39" y2="177.94" stroke="#262626" stroke-width="0.8"/>
<text x="573.99" y="329.8" font-size="7.1" text-anchor="middle" fill="#262626" textLength="28.4" lengthAdjust="spacingAndGlyphs"># traces</text>
<text x="49.40" y="25.4" font-size="7.5" fill="#262626" textLength="99.20" lengthAdjust="spacingAndGlyphs">100,000 datapoints per trace</text>
<text x="204.50" y="25.4" font-size="7.5" fill="#262626" textLength="105.50" lengthAdjust="spacingAndGlyphs">1,000,000 datapoints per trace</text>
<text x="360.50" y="25.4" font-size="7.5" fill="#262626" textLength="110.50" lengthAdjust="spacingAndGlyphs">10,000,000 datapoints per trace</text>
<text x="518.75" y="25.4" font-size="7.5" fill="#262626" textLength="110.50" lengthAdjust="spacingAndGlyphs">50,000,000 datapoints per trace</text>
<text transform="translate(8.3,95.3) rotate(-90)" font-size="7.6" text-anchor="middle" fill="#262626" textLength="106" lengthAdjust="spacingAndGlyphs">graph construction duration (s)</text>
<text transform="translate(8.3,244.3) rotate(-90)" font-size="7.6" text-anchor="middle" fill="#262626" textLength="65" lengthAdjust="spacingAndGlyphs">peak memory (MB)</text>
<line x1="159.7" y1="3.4" x2="173.6" y2="3.4" stroke="#a6d854" stroke-width="1.5"/>
<circle cx="166.65" cy="3.40" r="2.76" fill="#a6d854" />
<text x="177.8" y="5.7" font-size="6.8" fill="#262626" textLength="19.40" lengthAdjust="spacingAndGlyphs">Bokeh</text>
<line x1="209.0" y1="3.4" x2="223.0" y2="3.4" stroke="#ffd92f" stroke-width="1.5"/>
<path d="M216.00 0.88L218.02 3.40L216.00 5.92L213.98 3.40Z" fill="#ffd92f" />
<text x="227.25" y="5.7" font-size="6.8" fill="#262626" textLength="16.75" lengthAdjust="spacingAndGlyphs">Plotly</text>
<line x1="256.0" y1="3.4" x2="270.0" y2="3.4" stroke="#66c2a5" stroke-width="1.5"/>
<path d="M262.04 0.28H263.96V2.44H266.12V4.36H263.96V6.52H262.04V4.36H259.88V2.44H262.04Z" fill="#66c2a5" />
<text x="274.4" y="5.7" font-size="6.8" fill="#262626" textLength="30.35" lengthAdjust="spacingAndGlyphs">Matplotlib</text>
<line x1="317.1" y1="3.4" x2="331.0" y2="3.4" stroke="#fc8d62" stroke-width="1.5"/>
<rect x="322.13" y="1.48" width="3.84" height="3.84" fill="#fc8d62" />
<text x="335.6" y="5.7" font-size="6.8" fill="#262626" textLength="60.90" lengthAdjust="spacingAndGlyphs">HoloViews rasterize</text>
<line x1="409.0" y1="3.4" x2="422.9" y2="3.4" stroke="#8da0cb" stroke-width="1.5"/>
<path d="M414.03 1.48L417.87 5.32M417.87 1.48L414.03 5.32" stroke="#8da0cb" stroke-width="1.26" fill="none"/>
<text x="426.9" y="5.7" font-size="6.8" fill="#262626" textLength="48.20" lengthAdjust="spacingAndGlyphs">HoloViews LTTB</text>
<line x1="487.5" y1="3.4" x2="501.1" y2="3.4" stroke="#e78ac3" stroke-width="1.5"/>
<path d="M494.30 1.12L496.12 3.40L494.30 5.68L492.48 3.40Z" fill="#e78ac3" />
<text x="505.8" y="5.7" font-size="6.8" fill="#262626" textLength="52.60" lengthAdjust="spacingAndGlyphs">Plotly-Resampler</text>
<text y="350.4" style="font-family:'Liberation Serif', serif;stroke:none" font-size="11.3" fill="#1a1a1a"><tspan x="1">Figure 2:</tspan><tspan x="45.6">Benchmark results for</tspan><tspan x="158.5">line graph visualization</tspan><tspan x="272.5">tools (ref. [28]).</tspan><tspan x="351">The top subplot</tspan><tspan x="421.9">displays</tspan><tspan x="455.8">the measured</tspan><tspan x="532.6">time of construction and the</tspan></text>
</svg>
</body></html>
